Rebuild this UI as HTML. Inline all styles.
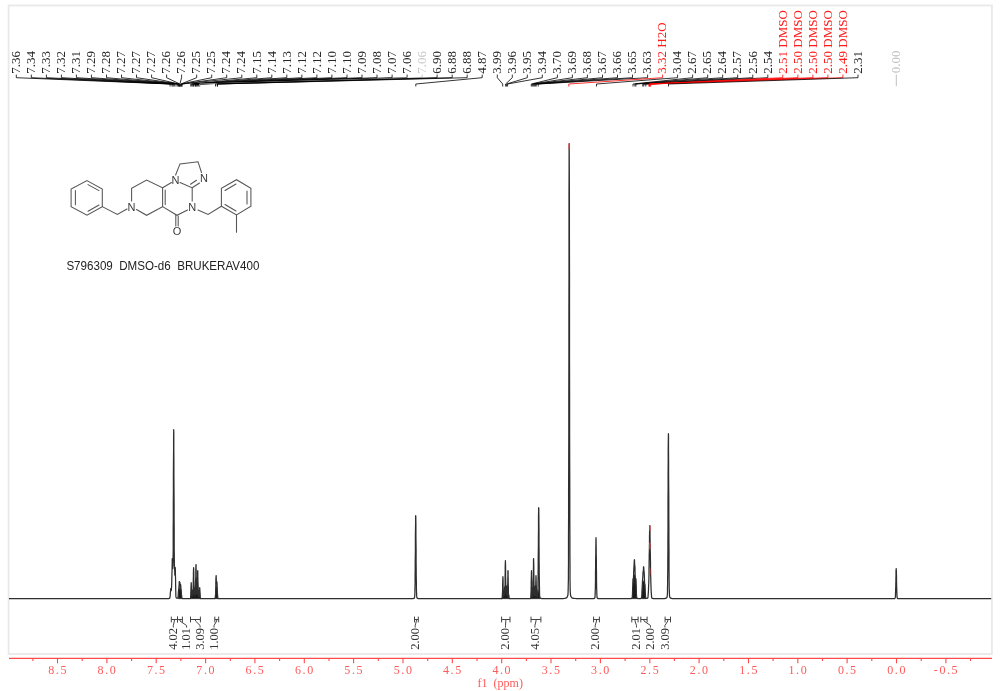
<!DOCTYPE html>
<html><head><meta charset="utf-8"><style>
html,body{margin:0;padding:0;background:#fff;width:1000px;height:691px;overflow:hidden}
svg{display:block;will-change:transform}
</style></head><body>
<svg width="1000" height="691" viewBox="0 0 1000 691">
<rect x="8.6" y="5.5" width="983.3" height="648.5" fill="none" stroke="#e9e9e9" stroke-width="1.8"/>
<g font-family="'Liberation Serif', serif" font-size="13">
<text transform="translate(20.0,73.7) rotate(-90)" fill="#262626">7.36</text><text transform="translate(35.0,73.7) rotate(-90)" fill="#262626">7.34</text><text transform="translate(50.1,73.7) rotate(-90)" fill="#262626">7.33</text><text transform="translate(65.1,73.7) rotate(-90)" fill="#262626">7.32</text><text transform="translate(80.1,73.7) rotate(-90)" fill="#262626">7.31</text><text transform="translate(95.1,73.7) rotate(-90)" fill="#262626">7.29</text><text transform="translate(110.2,73.7) rotate(-90)" fill="#262626">7.28</text><text transform="translate(125.2,73.7) rotate(-90)" fill="#262626">7.27</text><text transform="translate(140.2,73.7) rotate(-90)" fill="#262626">7.27</text><text transform="translate(155.3,73.7) rotate(-90)" fill="#262626">7.27</text><text transform="translate(170.3,73.7) rotate(-90)" fill="#262626">7.26</text><text transform="translate(185.3,73.7) rotate(-90)" fill="#262626">7.26</text><text transform="translate(200.4,73.7) rotate(-90)" fill="#262626">7.25</text><text transform="translate(215.4,73.7) rotate(-90)" fill="#262626">7.25</text><text transform="translate(230.4,73.7) rotate(-90)" fill="#262626">7.24</text><text transform="translate(245.4,73.7) rotate(-90)" fill="#262626">7.24</text><text transform="translate(260.5,73.7) rotate(-90)" fill="#262626">7.15</text><text transform="translate(275.5,73.7) rotate(-90)" fill="#262626">7.14</text><text transform="translate(290.5,73.7) rotate(-90)" fill="#262626">7.13</text><text transform="translate(305.6,73.7) rotate(-90)" fill="#262626">7.12</text><text transform="translate(320.6,73.7) rotate(-90)" fill="#262626">7.12</text><text transform="translate(335.6,73.7) rotate(-90)" fill="#262626">7.10</text><text transform="translate(350.7,73.7) rotate(-90)" fill="#262626">7.10</text><text transform="translate(365.7,73.7) rotate(-90)" fill="#262626">7.09</text><text transform="translate(380.7,73.7) rotate(-90)" fill="#262626">7.08</text><text transform="translate(395.8,73.7) rotate(-90)" fill="#262626">7.07</text><text transform="translate(410.8,73.7) rotate(-90)" fill="#262626">7.06</text><text transform="translate(425.8,73.7) rotate(-90)" fill="#c8c8c8">7.06</text><text transform="translate(440.8,73.7) rotate(-90)" fill="#262626">6.90</text><text transform="translate(455.9,73.7) rotate(-90)" fill="#262626">6.88</text><text transform="translate(470.9,73.7) rotate(-90)" fill="#262626">6.88</text><text transform="translate(485.9,73.7) rotate(-90)" fill="#262626">4.87</text><text transform="translate(501.0,73.7) rotate(-90)" fill="#262626">3.99</text><text transform="translate(516.0,73.7) rotate(-90)" fill="#262626">3.96</text><text transform="translate(531.0,73.7) rotate(-90)" fill="#262626">3.95</text><text transform="translate(546.0,73.7) rotate(-90)" fill="#262626">3.94</text><text transform="translate(561.1,73.7) rotate(-90)" fill="#262626">3.70</text><text transform="translate(576.1,73.7) rotate(-90)" fill="#262626">3.69</text><text transform="translate(591.1,73.7) rotate(-90)" fill="#262626">3.68</text><text transform="translate(606.2,73.7) rotate(-90)" fill="#262626">3.67</text><text transform="translate(621.2,73.7) rotate(-90)" fill="#262626">3.66</text><text transform="translate(636.2,73.7) rotate(-90)" fill="#262626">3.65</text><text transform="translate(651.3,73.7) rotate(-90)" fill="#262626">3.63</text><text transform="translate(666.3,73.7) rotate(-90)" fill="#ff1a1a">3.32 H2O</text><text transform="translate(681.3,73.7) rotate(-90)" fill="#262626">3.04</text><text transform="translate(696.4,73.7) rotate(-90)" fill="#262626">2.67</text><text transform="translate(711.4,73.7) rotate(-90)" fill="#262626">2.65</text><text transform="translate(726.4,73.7) rotate(-90)" fill="#262626">2.64</text><text transform="translate(741.4,73.7) rotate(-90)" fill="#262626">2.57</text><text transform="translate(756.5,73.7) rotate(-90)" fill="#262626">2.56</text><text transform="translate(771.5,73.7) rotate(-90)" fill="#262626">2.54</text><text transform="translate(786.5,73.7) rotate(-90)" fill="#ff1a1a">2.51 DMSO</text><text transform="translate(801.6,73.7) rotate(-90)" fill="#ff1a1a">2.50 DMSO</text><text transform="translate(816.6,73.7) rotate(-90)" fill="#ff1a1a">2.50 DMSO</text><text transform="translate(831.6,73.7) rotate(-90)" fill="#ff1a1a">2.50 DMSO</text><text transform="translate(846.6,73.7) rotate(-90)" fill="#ff1a1a">2.49 DMSO</text><text transform="translate(861.7,73.7) rotate(-90)" fill="#262626">2.31</text>
</g>
<g fill="none" stroke-width="0.8">
<path d="M16.3 74.6 L16.3 77.7 L170.1 84.0 L170.1 86.5" stroke="#000"/><path d="M31.3 74.6 L31.3 77.7 L172.0 84.0 L172.0 86.5" stroke="#000"/><path d="M46.4 74.6 L46.4 77.7 L173.0 84.0 L173.0 86.5" stroke="#000"/><path d="M61.4 74.6 L61.4 77.7 L174.0 84.0 L174.0 86.5" stroke="#000"/><path d="M76.4 74.6 L76.4 77.7 L175.0 84.0 L175.0 86.5" stroke="#000"/><path d="M91.4 74.6 L91.4 77.7 L177.0 84.0 L177.0 86.5" stroke="#000"/><path d="M106.5 74.6 L106.5 77.7 L178.0 84.0 L178.0 86.5" stroke="#000"/><path d="M121.5 74.6 L121.5 77.7 L179.0 84.0 L179.0 86.5" stroke="#000"/><path d="M136.5 74.6 L136.5 77.7 L179.0 84.0 L179.0 86.5" stroke="#000"/><path d="M151.6 74.6 L151.6 77.7 L179.0 84.0 L179.0 86.5" stroke="#000"/><path d="M166.6 74.6 L166.6 77.7 L179.9 84.0 L179.9 86.5" stroke="#000"/><path d="M181.6 74.6 L181.6 77.7 L179.9 84.0 L179.9 86.5" stroke="#000"/><path d="M196.7 74.6 L196.7 77.7 L180.9 84.0 L180.9 86.5" stroke="#000"/><path d="M211.7 74.6 L211.7 77.7 L180.9 84.0 L180.9 86.5" stroke="#000"/><path d="M226.7 74.6 L226.7 77.7 L181.9 84.0 L181.9 86.5" stroke="#000"/><path d="M241.8 74.6 L241.8 77.7 L181.9 84.0 L181.9 86.5" stroke="#000"/><path d="M256.8 74.6 L256.8 77.7 L190.8 84.0 L190.8 86.5" stroke="#000"/><path d="M271.8 74.6 L271.8 77.7 L191.8 84.0 L191.8 86.5" stroke="#000"/><path d="M286.8 74.6 L286.8 77.7 L192.8 84.0 L192.8 86.5" stroke="#000"/><path d="M301.9 74.6 L301.9 77.7 L193.8 84.0 L193.8 86.5" stroke="#000"/><path d="M316.9 74.6 L316.9 77.7 L193.8 84.0 L193.8 86.5" stroke="#000"/><path d="M331.9 74.6 L331.9 77.7 L195.7 84.0 L195.7 86.5" stroke="#000"/><path d="M347.0 74.6 L347.0 77.7 L195.7 84.0 L195.7 86.5" stroke="#000"/><path d="M362.0 74.6 L362.0 77.7 L196.7 84.0 L196.7 86.5" stroke="#000"/><path d="M377.0 74.6 L377.0 77.7 L197.7 84.0 L197.7 86.5" stroke="#000"/><path d="M392.1 74.6 L392.1 77.7 L198.7 84.0 L198.7 86.5" stroke="#000"/><path d="M407.1 74.6 L407.1 77.7 L199.7 84.0 L199.7 86.5" stroke="#000"/><path d="M422.1 74.6 L422.1 77.7 L199.7 84.0 L199.7 86.5" stroke="#bbbbbb"/><path d="M437.1 74.6 L437.1 77.7 L215.5 84.0 L215.5 86.5" stroke="#000"/><path d="M452.2 74.6 L452.2 77.7 L217.4 84.0 L217.4 86.5" stroke="#000"/><path d="M467.2 74.6 L467.2 77.7 L217.4 84.0 L217.4 86.5" stroke="#000"/><path d="M482.2 74.6 L482.2 77.7 L415.8 84.0 L415.8 86.5" stroke="#000"/><path d="M497.3 74.6 L497.3 77.7 L502.7 84.0 L502.7 86.5" stroke="#000"/><path d="M512.3 74.6 L512.3 77.7 L505.6 84.0 L505.6 86.5" stroke="#000"/><path d="M527.3 74.6 L527.3 77.7 L506.6 84.0 L506.6 86.5" stroke="#000"/><path d="M542.3 74.6 L542.3 77.7 L507.6 84.0 L507.6 86.5" stroke="#000"/><path d="M557.4 74.6 L557.4 77.7 L531.3 84.0 L531.3 86.5" stroke="#000"/><path d="M572.4 74.6 L572.4 77.7 L532.3 84.0 L532.3 86.5" stroke="#000"/><path d="M587.4 74.6 L587.4 77.7 L533.3 84.0 L533.3 86.5" stroke="#000"/><path d="M602.5 74.6 L602.5 77.7 L534.3 84.0 L534.3 86.5" stroke="#000"/><path d="M617.5 74.6 L617.5 77.7 L535.3 84.0 L535.3 86.5" stroke="#000"/><path d="M632.5 74.6 L632.5 77.7 L536.2 84.0 L536.2 86.5" stroke="#000"/><path d="M647.6 74.6 L647.6 77.7 L538.2 84.0 L538.2 86.5" stroke="#000"/><path d="M662.6 74.6 L662.6 77.7 L568.8 84.0 L568.8 86.5" stroke="#ff0000"/><path d="M677.6 74.6 L677.6 77.7 L596.5 84.0 L596.5 86.5" stroke="#000"/><path d="M692.6 74.6 L692.6 77.7 L633.0 84.0 L633.0 86.5" stroke="#000"/><path d="M707.7 74.6 L707.7 77.7 L634.9 84.0 L634.9 86.5" stroke="#000"/><path d="M722.7 74.6 L722.7 77.7 L635.9 84.0 L635.9 86.5" stroke="#000"/><path d="M737.7 74.6 L737.7 77.7 L642.8 84.0 L642.8 86.5" stroke="#000"/><path d="M752.8 74.6 L752.8 77.7 L643.8 84.0 L643.8 86.5" stroke="#000"/><path d="M767.8 74.6 L767.8 77.7 L645.8 84.0 L645.8 86.5" stroke="#000"/><path d="M782.8 74.6 L782.8 77.7 L648.8 84.0 L648.8 86.5" stroke="#ff0000"/><path d="M797.9 74.6 L797.9 77.7 L649.8 84.0 L649.8 86.5" stroke="#ff0000"/><path d="M812.9 74.6 L812.9 77.7 L649.8 84.0 L649.8 86.5" stroke="#ff0000"/><path d="M827.9 74.6 L827.9 77.7 L649.8 84.0 L649.8 86.5" stroke="#ff0000"/><path d="M842.9 74.6 L842.9 77.7 L650.7 84.0 L650.7 86.5" stroke="#ff0000"/><path d="M858.0 74.6 L858.0 77.7 L668.5 84.0 L668.5 86.5" stroke="#000"/>
<path d="M896.3 74.6 L896.3 86.2" stroke="#b0b0b0"/>
</g>
<text transform="translate(900.4,73.3) rotate(-90)" font-family="'Liberation Serif', serif" font-size="13" fill="#c0c0c0">0.00</text>
<path d="M178.2 598.7 L178.2 598.7 L178.4 596.2 L178.6 594.0 L178.8 592.0 L179.0 590.4 L179.2 589.1 L179.4 588.0 L179.6 587.3 L179.8 586.8 L180.0 586.7 L180.2 586.8 L180.4 587.3 L180.6 588.0 L180.8 589.1 L181.0 590.4 L181.2 592.0 L181.4 594.0 L181.6 596.2 L181.8 598.7 L181.8 598.7 Z M190.4 598.7 L190.4 598.7 L190.6 597.5 L190.8 595.7 L191.0 594.4 L191.2 593.0 L191.4 591.7 L191.6 594.0 L191.8 595.3 L192.0 593.9 L192.2 595.8 L192.4 590.7 L192.6 595.4 L192.8 590.6 L193.0 592.8 L193.2 589.7 L193.4 582.3 L193.6 581.7 L193.8 581.1 L194.0 587.8 L194.2 587.7 L194.4 594.8 L194.6 591.0 L194.8 594.4 L195.0 594.5 L195.2 594.2 L195.4 592.4 L195.6 582.2 L195.8 578.7 L196.0 578.8 L196.2 579.0 L196.4 584.1 L196.6 592.9 L196.8 588.8 L197.0 588.6 L197.2 593.6 L197.4 585.2 L197.6 581.7 L197.8 582.3 L198.0 584.9 L198.2 591.2 L198.4 595.6 L198.6 592.9 L198.8 593.0 L199.0 596.2 L199.2 594.0 L199.4 593.0 L199.6 590.5 L199.8 591.7 L200.0 593.4 L200.2 597.0 L200.4 598.2 L200.6 598.5 L200.8 598.7 L200.8 598.7 Z M215.0 598.7 L215.0 598.7 L215.2 598.1 L215.4 596.8 L215.6 592.9 L215.8 589.3 L216.0 588.0 L216.2 587.2 L216.4 586.8 L216.6 586.8 L216.8 587.2 L217.0 588.0 L217.2 589.3 L217.4 592.3 L217.6 596.2 L217.8 598.1 L218.0 598.7 L218.0 598.7 Z M501.2 598.7 L501.2 598.7 L501.4 598.6 L501.6 598.5 L501.8 598.5 L502.0 598.4 L502.2 597.9 L502.4 595.5 L502.6 591.6 L502.8 590.8 L503.0 590.1 L503.2 589.4 L503.4 595.3 L503.6 596.1 L503.8 591.4 L504.0 595.6 L504.2 591.1 L504.4 594.1 L504.6 590.6 L504.8 588.8 L505.0 587.4 L505.2 585.8 L505.4 585.7 L505.6 585.7 L505.8 586.8 L506.0 586.8 L506.2 592.7 L506.4 589.6 L506.6 589.7 L506.8 593.7 L507.0 590.3 L507.2 596.3 L507.4 594.1 L507.6 590.2 L507.8 589.4 L508.0 590.1 L508.2 590.8 L508.4 591.6 L508.6 595.4 L508.8 595.6 L509.0 598.0 L509.2 598.2 L509.4 598.4 L509.6 598.5 L509.8 598.7 L509.8 598.7 Z M530.2 598.7 L530.2 598.7 L530.4 598.4 L530.6 598.3 L530.8 597.7 L531.0 594.5 L531.2 593.6 L531.4 592.7 L531.6 591.8 L531.8 591.0 L532.0 594.2 L532.2 596.2 L532.4 593.1 L532.6 596.4 L532.8 594.6 L533.0 594.2 L533.2 587.3 L533.4 586.4 L533.6 586.0 L533.8 585.7 L534.0 586.7 L534.2 593.1 L534.4 595.6 L534.6 587.4 L534.8 592.5 L535.0 592.6 L535.2 592.6 L535.4 596.1 L535.6 591.5 L535.8 585.0 L536.0 585.2 L536.2 585.4 L536.4 589.2 L536.6 595.0 L536.8 593.7 L537.0 593.8 L537.2 597.2 L537.4 597.0 L537.6 596.7 L537.8 593.9 L538.0 589.6 L538.2 590.3 L538.4 591.0 L538.6 591.8 L538.8 592.7 L539.0 593.6 L539.2 594.5 L539.4 595.5 L539.6 596.5 L539.8 597.6 L540.0 598.7 L540.0 598.7 Z M632.2 598.7 L632.2 598.7 L632.4 595.6 L632.6 591.2 L632.8 588.0 L633.0 585.1 L633.2 582.6 L633.4 580.7 L633.6 578.6 L633.8 577.1 L634.0 576.0 L634.2 575.2 L634.4 574.8 L634.6 574.7 L634.8 575.0 L635.0 575.6 L635.2 576.5 L635.4 583.3 L635.6 583.4 L635.8 581.5 L636.0 583.8 L636.2 587.0 L636.4 593.5 L636.6 596.9 L636.8 598.0 L636.9 598.7 Z M641.6 598.7 L641.6 598.7 L641.8 596.4 L642.0 593.0 L642.2 590.1 L642.4 587.8 L642.6 585.8 L642.8 584.2 L643.0 582.9 L643.2 581.9 L643.4 581.2 L643.6 580.8 L643.8 580.7 L644.0 580.9 L644.2 581.5 L644.4 582.3 L644.6 583.5 L644.8 585.0 L645.0 586.8 L645.2 591.0 L645.4 595.2 L645.6 597.3 L645.8 598.0 L645.9 598.7 Z" fill="#1a1a1a" stroke="#1a1a1a" stroke-width="0.5"/>
<path d="M9.0 598.7 L10.0 598.7 L11.0 598.7 L12.0 598.7 L13.0 598.7 L14.0 598.7 L15.0 598.7 L16.0 598.7 L17.0 598.7 L18.0 598.7 L19.0 598.7 L20.0 598.7 L21.0 598.7 L22.0 598.7 L23.0 598.7 L24.0 598.7 L25.0 598.7 L26.0 598.7 L27.0 598.7 L28.0 598.7 L29.0 598.7 L30.0 598.7 L31.0 598.7 L32.0 598.7 L33.0 598.7 L34.0 598.7 L35.0 598.7 L36.0 598.7 L37.0 598.7 L38.0 598.7 L39.0 598.7 L40.0 598.7 L41.0 598.7 L42.0 598.7 L43.0 598.7 L44.0 598.7 L45.0 598.7 L46.0 598.7 L47.0 598.7 L48.0 598.7 L49.0 598.7 L50.0 598.7 L51.0 598.7 L52.0 598.7 L53.0 598.7 L54.0 598.7 L55.0 598.7 L56.0 598.7 L57.0 598.7 L58.0 598.7 L59.0 598.7 L60.0 598.7 L61.0 598.7 L62.0 598.7 L63.0 598.7 L64.0 598.7 L65.0 598.7 L66.0 598.7 L67.0 598.7 L68.0 598.7 L69.0 598.7 L70.0 598.7 L71.0 598.7 L72.0 598.7 L73.0 598.7 L74.0 598.7 L75.0 598.7 L76.0 598.7 L77.0 598.7 L78.0 598.7 L79.0 598.7 L80.0 598.7 L81.0 598.7 L82.0 598.7 L83.0 598.7 L84.0 598.7 L85.0 598.7 L86.0 598.7 L87.0 598.7 L88.0 598.7 L89.0 598.7 L90.0 598.7 L91.0 598.7 L92.0 598.7 L93.0 598.7 L94.0 598.7 L95.0 598.7 L96.0 598.7 L97.0 598.7 L98.0 598.7 L99.0 598.7 L100.0 598.7 L101.0 598.7 L102.0 598.7 L103.0 598.7 L104.0 598.7 L105.0 598.7 L106.0 598.7 L107.0 598.7 L108.0 598.7 L109.0 598.7 L110.0 598.7 L111.0 598.7 L112.0 598.7 L113.0 598.7 L114.0 598.7 L115.0 598.7 L116.0 598.7 L117.0 598.7 L118.0 598.7 L119.0 598.7 L120.0 598.7 L121.0 598.7 L122.0 598.7 L123.0 598.7 L124.0 598.7 L125.0 598.7 L126.0 598.7 L127.0 598.7 L128.0 598.7 L129.0 598.7 L130.0 598.7 L131.0 598.7 L132.0 598.7 L133.0 598.7 L134.0 598.7 L135.0 598.7 L136.0 598.7 L137.0 598.7 L138.0 598.7 L139.0 598.7 L140.0 598.7 L141.0 598.7 L142.0 598.7 L143.0 598.7 L144.0 598.7 L145.0 598.7 L146.0 598.7 L147.0 598.7 L148.0 598.7 L149.0 598.7 L150.0 598.7 L151.0 598.7 L152.0 598.7 L153.0 598.7 L154.0 598.7 L155.0 598.7 L156.0 598.7 L157.0 598.7 L158.0 598.7 L159.0 598.7 L160.0 598.7 L161.0 598.7 L162.0 598.7 L163.0 598.7 L164.0 598.6 L165.0 598.6 L166.0 598.6 L166.1 598.6 L166.1 598.6 L166.2 598.6 L166.2 598.6 L166.2 598.6 L166.3 598.6 L166.3 598.6 L166.4 598.6 L166.4 598.6 L166.5 598.6 L166.6 598.6 L166.6 598.6 L166.7 598.6 L166.7 598.6 L166.8 598.6 L166.8 598.6 L166.8 598.6 L166.9 598.6 L166.9 598.6 L167.0 598.6 L167.1 598.6 L167.1 598.6 L167.2 598.6 L167.2 598.6 L167.2 598.6 L167.3 598.6 L167.3 598.6 L167.4 598.6 L167.4 598.6 L167.5 598.6 L167.6 598.6 L167.6 598.6 L167.7 598.6 L167.7 598.6 L167.8 598.6 L167.8 598.5 L167.8 598.5 L167.9 598.5 L167.9 598.5 L168.0 598.5 L168.1 598.5 L168.1 598.5 L168.2 598.5 L168.2 598.5 L168.2 598.5 L168.3 598.5 L168.3 598.5 L168.4 598.5 L168.4 598.5 L168.5 598.5 L168.6 598.5 L168.6 598.5 L168.7 598.5 L168.7 598.5 L168.8 598.5 L168.8 598.5 L168.8 598.5 L168.9 598.4 L168.9 598.4 L169.0 598.4 L169.1 598.4 L169.1 598.4 L169.2 598.4 L169.2 598.4 L169.2 598.4 L169.3 598.4 L169.3 598.3 L169.4 598.3 L169.4 598.3 L169.5 598.3 L169.6 598.2 L169.6 598.2 L169.7 598.1 L169.7 598.1 L169.8 598.0 L169.8 597.8 L169.8 597.7 L169.9 597.5 L169.9 597.3 L170.0 597.0 L170.1 596.7 L170.1 596.3 L170.2 595.8 L170.2 595.3 L170.2 594.7 L170.3 594.1 L170.3 593.4 L170.4 592.7 L170.4 592.0 L170.5 591.3 L170.6 590.7 L170.6 590.1 L170.7 589.5 L170.7 589.1 L170.8 588.8 L170.8 588.7 L170.8 588.7 L170.9 588.9 L170.9 589.1 L171.0 589.4 L171.1 589.8 L171.1 590.1 L171.2 590.4 L171.2 590.6 L171.2 590.6 L171.3 590.4 L171.3 590.0 L171.4 589.4 L171.4 588.7 L171.5 587.7 L171.6 586.6 L171.6 585.3 L171.7 584.0 L171.7 582.6 L171.8 581.2 L171.8 579.7 L171.8 578.1 L171.9 576.4 L171.9 574.4 L172.0 572.1 L172.1 569.5 L172.1 566.8 L172.2 564.0 L172.2 561.6 L172.2 559.7 L172.3 558.7 L172.3 558.7 L172.4 559.5 L172.4 560.9 L172.5 562.6 L172.6 564.3 L172.6 565.8 L172.7 567.0 L172.7 567.9 L172.8 568.4 L172.8 568.7 L172.8 568.6 L172.9 568.0 L172.9 566.8 L173.0 564.6 L173.1 561.1 L173.1 556.1 L173.2 549.3 L173.2 540.7 L173.2 530.2 L173.3 518.1 L173.3 504.5 L173.4 490.0 L173.4 475.3 L173.5 461.2 L173.6 448.6 L173.6 438.6 L173.7 432.0 L173.7 429.7 L173.8 432.0 L173.8 438.5 L173.8 448.5 L173.9 461.0 L173.9 475.1 L174.0 489.6 L174.1 503.9 L174.1 517.3 L174.2 529.3 L174.2 539.5 L174.2 547.8 L174.3 554.3 L174.3 559.1 L174.4 562.5 L174.4 564.8 L174.5 566.4 L174.6 567.6 L174.6 568.7 L174.7 569.9 L174.7 571.2 L174.8 572.6 L174.8 573.8 L174.8 574.7 L174.9 575.2 L174.9 575.0 L175.0 574.3 L175.1 573.1 L175.1 571.5 L175.2 569.8 L175.2 568.4 L175.2 567.6 L175.3 567.7 L175.3 568.8 L175.4 571.0 L175.4 574.0 L175.5 577.3 L175.6 580.8 L175.6 584.2 L175.7 587.2 L175.7 589.9 L175.8 592.0 L175.8 593.7 L175.8 595.0 L175.9 595.9 L175.9 596.6 L176.0 597.0 L176.1 597.3 L176.1 597.5 L176.2 597.6 L176.2 597.7 L176.2 597.8 L176.3 597.8 L176.3 597.9 L176.4 597.9 L176.4 598.0 L176.5 598.0 L176.6 598.0 L176.6 598.0 L176.7 598.1 L176.7 598.1 L176.8 598.1 L176.8 598.1 L176.8 598.1 L176.9 598.1 L176.9 598.2 L177.0 598.2 L177.1 598.2 L177.1 598.2 L177.2 598.2 L177.2 598.2 L177.2 598.2 L177.3 598.2 L177.3 598.2 L177.4 598.2 L177.4 598.2 L177.5 598.2 L177.6 598.2 L177.6 598.2 L177.7 598.1 L177.7 598.1 L177.8 598.1 L177.8 598.0 L177.8 597.9 L177.9 597.7 L177.9 597.5 L178.0 597.2 L178.1 596.8 L178.1 596.4 L178.2 595.8 L178.2 595.2 L178.2 594.5 L178.3 593.7 L178.3 592.9 L178.4 592.1 L178.4 591.4 L178.5 590.7 L178.6 590.1 L178.6 589.7 L178.7 589.4 L178.7 589.2 L178.8 589.0 L178.8 588.8 L178.8 588.5 L178.9 588.0 L178.9 587.4 L179.0 586.7 L179.1 585.8 L179.1 584.8 L179.2 583.8 L179.2 582.9 L179.2 582.2 L179.3 581.7 L179.3 581.5 L179.4 581.5 L179.4 581.6 L179.5 581.9 L179.6 582.1 L179.6 582.3 L179.7 582.4 L179.7 582.4 L179.8 582.4 L179.8 582.4 L179.8 582.5 L179.9 582.7 L179.9 583.1 L180.0 583.6 L180.1 584.3 L180.1 584.9 L180.2 585.4 L180.2 585.8 L180.2 586.0 L180.3 586.0 L180.3 585.9 L180.4 585.6 L180.4 585.3 L180.5 585.0 L180.6 584.7 L180.6 584.7 L180.7 584.9 L180.7 585.3 L180.8 585.8 L180.8 586.4 L180.8 587.1 L180.9 587.7 L180.9 588.3 L181.0 588.9 L181.1 589.3 L181.1 589.8 L181.2 590.2 L181.2 590.7 L181.2 591.3 L181.3 591.9 L181.3 592.5 L181.4 593.3 L181.4 594.0 L181.5 594.7 L181.6 595.3 L181.6 595.9 L181.7 596.4 L181.7 596.9 L181.8 597.3 L181.8 597.6 L181.8 597.8 L181.9 598.0 L181.9 598.1 L182.0 598.2 L182.1 598.3 L182.1 598.4 L182.2 598.4 L182.2 598.4 L182.2 598.4 L182.3 598.5 L182.3 598.5 L182.4 598.5 L182.4 598.5 L182.5 598.5 L182.6 598.5 L182.6 598.5 L182.7 598.5 L182.7 598.5 L182.8 598.5 L182.8 598.5 L182.8 598.5 L182.9 598.5 L182.9 598.6 L183.0 598.6 L183.1 598.6 L183.1 598.6 L183.2 598.6 L183.2 598.6 L183.2 598.6 L183.3 598.6 L183.3 598.6 L183.4 598.6 L183.4 598.6 L183.5 598.6 L183.6 598.6 L183.6 598.6 L183.7 598.6 L183.7 598.6 L183.8 598.6 L183.8 598.6 L183.8 598.6 L183.9 598.6 L183.9 598.6 L184.0 598.6 L184.1 598.6 L184.1 598.6 L184.2 598.6 L184.2 598.6 L184.2 598.6 L184.3 598.6 L184.3 598.6 L184.4 598.6 L184.4 598.6 L184.5 598.6 L184.6 598.6 L184.6 598.6 L184.7 598.6 L184.7 598.6 L184.8 598.6 L184.8 598.6 L184.8 598.6 L184.9 598.6 L184.9 598.6 L185.0 598.6 L185.1 598.6 L185.1 598.6 L185.2 598.6 L185.2 598.6 L185.2 598.6 L185.3 598.6 L185.3 598.6 L185.4 598.6 L185.4 598.6 L185.5 598.6 L185.6 598.6 L185.6 598.6 L185.7 598.6 L185.7 598.6 L185.8 598.6 L185.8 598.6 L185.8 598.6 L185.9 598.6 L185.9 598.6 L186.0 598.6 L186.1 598.6 L186.1 598.6 L186.2 598.6 L186.2 598.6 L186.2 598.6 L186.3 598.6 L186.3 598.6 L186.4 598.6 L186.4 598.6 L186.5 598.6 L186.6 598.6 L186.6 598.6 L186.7 598.6 L186.7 598.6 L186.8 598.6 L186.8 598.6 L186.8 598.6 L186.9 598.6 L186.9 598.6 L187.0 598.6 L187.1 598.6 L187.1 598.6 L187.2 598.6 L187.2 598.6 L187.2 598.6 L187.3 598.6 L187.3 598.6 L187.4 598.6 L187.4 598.6 L187.5 598.6 L187.6 598.6 L187.6 598.6 L187.7 598.6 L187.7 598.6 L187.8 598.6 L187.8 598.6 L187.8 598.6 L187.9 598.6 L187.9 598.6 L188.0 598.6 L188.1 598.6 L188.1 598.6 L188.2 598.6 L188.2 598.6 L188.2 598.6 L188.3 598.6 L188.3 598.6 L188.4 598.6 L188.4 598.6 L188.5 598.6 L188.6 598.6 L188.6 598.6 L188.7 598.6 L188.7 598.6 L188.8 598.6 L188.8 598.6 L188.8 598.6 L188.9 598.6 L188.9 598.6 L189.0 598.6 L189.1 598.6 L189.1 598.6 L189.2 598.6 L189.2 598.6 L189.2 598.6 L189.3 598.6 L189.3 598.6 L189.4 598.6 L189.4 598.6 L189.5 598.6 L189.6 598.6 L189.6 598.6 L189.7 598.6 L189.7 598.6 L189.8 598.6 L189.8 598.6 L189.8 598.6 L189.9 598.5 L189.9 598.5 L190.0 598.5 L190.1 598.5 L190.1 598.5 L190.2 598.5 L190.2 598.5 L190.2 598.5 L190.3 598.4 L190.3 598.4 L190.4 598.3 L190.4 598.2 L190.5 598.1 L190.6 597.8 L190.6 597.5 L190.7 597.0 L190.7 596.3 L190.8 595.4 L190.8 594.2 L190.8 592.7 L190.9 591.1 L190.9 589.2 L191.0 587.3 L191.1 585.6 L191.1 584.1 L191.2 583.1 L191.2 582.7 L191.2 583.0 L191.3 584.0 L191.3 585.5 L191.4 587.3 L191.4 589.1 L191.5 591.0 L191.6 592.6 L191.6 594.0 L191.7 595.0 L191.7 595.6 L191.8 595.7 L191.8 595.3 L191.8 594.5 L191.9 593.8 L191.9 593.4 L192.0 593.9 L192.1 594.9 L192.1 595.8 L192.2 596.2 L192.2 595.8 L192.2 594.7 L192.3 593.0 L192.3 591.4 L192.4 590.7 L192.4 591.3 L192.5 592.9 L192.6 594.4 L192.6 595.4 L192.7 595.3 L192.7 594.2 L192.8 592.4 L192.8 590.6 L192.8 589.7 L192.9 590.2 L192.9 591.5 L193.0 592.8 L193.1 593.4 L193.1 593.1 L193.2 591.8 L193.2 589.7 L193.2 587.0 L193.3 583.8 L193.3 580.3 L193.4 576.7 L193.4 573.2 L193.5 570.4 L193.6 568.4 L193.6 567.7 L193.7 568.4 L193.7 570.3 L193.8 573.2 L193.8 576.6 L193.8 580.1 L193.9 583.4 L193.9 586.1 L194.0 587.8 L194.1 588.4 L194.1 588.1 L194.2 587.6 L194.2 587.7 L194.2 589.2 L194.3 591.4 L194.3 593.5 L194.4 594.8 L194.4 595.0 L194.5 594.1 L194.6 592.5 L194.6 591.0 L194.7 590.3 L194.7 591.0 L194.8 592.7 L194.8 594.4 L194.8 595.6 L194.9 595.9 L194.9 595.5 L195.0 594.5 L195.1 593.5 L195.1 593.0 L195.2 593.4 L195.2 594.2 L195.2 595.0 L195.3 595.1 L195.3 594.3 L195.4 592.4 L195.4 589.7 L195.5 586.6 L195.6 584.0 L195.6 582.2 L195.7 580.8 L195.7 579.1 L195.8 576.7 L195.8 573.7 L195.8 570.4 L195.9 567.5 L195.9 565.4 L196.0 564.7 L196.1 565.4 L196.1 567.5 L196.2 570.5 L196.2 573.9 L196.2 577.2 L196.3 580.0 L196.3 582.2 L196.4 584.1 L196.4 586.0 L196.5 588.4 L196.6 590.9 L196.6 592.9 L196.7 593.8 L196.7 593.4 L196.8 591.5 L196.8 588.8 L196.8 586.2 L196.9 585.0 L196.9 586.1 L197.0 588.6 L197.1 591.3 L197.1 593.2 L197.2 594.0 L197.2 593.6 L197.2 592.4 L197.3 590.5 L197.3 588.0 L197.4 585.2 L197.4 582.0 L197.5 578.7 L197.6 575.7 L197.6 573.1 L197.7 571.3 L197.7 570.7 L197.8 571.3 L197.8 573.1 L197.8 575.7 L197.9 578.7 L197.9 581.9 L198.0 584.9 L198.1 587.3 L198.1 589.2 L198.2 590.4 L198.2 591.2 L198.2 592.1 L198.3 593.2 L198.3 594.5 L198.4 595.6 L198.4 596.0 L198.5 595.7 L198.6 594.5 L198.6 592.9 L198.7 591.3 L198.7 590.6 L198.8 591.4 L198.8 593.0 L198.8 594.7 L198.9 595.9 L198.9 596.4 L199.0 596.2 L199.1 595.6 L199.1 594.7 L199.2 594.2 L199.2 594.0 L199.2 594.1 L199.3 594.1 L199.3 593.7 L199.4 593.0 L199.4 591.9 L199.5 590.8 L199.6 589.6 L199.6 588.6 L199.7 587.9 L199.7 587.7 L199.8 588.0 L199.8 588.7 L199.8 589.7 L199.9 590.9 L199.9 592.2 L200.0 593.4 L200.1 594.6 L200.1 595.6 L200.2 596.4 L200.2 597.0 L200.2 597.5 L200.3 597.8 L200.3 598.1 L200.4 598.2 L200.4 598.4 L200.5 598.4 L200.6 598.5 L200.6 598.5 L200.7 598.5 L200.7 598.5 L200.8 598.5 L200.8 598.6 L200.8 598.6 L200.9 598.6 L200.9 598.6 L201.0 598.6 L201.1 598.6 L201.1 598.6 L201.2 598.6 L201.2 598.6 L201.2 598.6 L201.3 598.6 L201.3 598.6 L201.4 598.6 L201.4 598.6 L201.5 598.6 L201.6 598.6 L201.6 598.6 L201.7 598.6 L201.7 598.6 L201.8 598.6 L201.8 598.6 L201.8 598.6 L201.9 598.6 L201.9 598.6 L202.0 598.6 L202.1 598.6 L202.1 598.6 L202.2 598.6 L202.2 598.6 L202.2 598.6 L202.3 598.6 L202.3 598.6 L202.4 598.6 L202.4 598.6 L202.5 598.6 L202.6 598.7 L202.6 598.7 L202.7 598.7 L202.7 598.7 L202.8 598.7 L202.8 598.7 L202.8 598.7 L202.9 598.7 L202.9 598.7 L203.0 598.7 L203.1 598.7 L203.1 598.7 L203.2 598.7 L203.2 598.7 L203.2 598.7 L203.3 598.7 L203.3 598.7 L203.4 598.7 L203.4 598.7 L203.5 598.7 L203.6 598.7 L203.6 598.7 L203.7 598.7 L203.7 598.7 L203.8 598.7 L203.8 598.7 L203.8 598.7 L203.9 598.7 L203.9 598.7 L204.0 598.7 L204.1 598.7 L204.1 598.7 L204.2 598.7 L204.2 598.7 L204.2 598.7 L204.3 598.7 L204.3 598.7 L204.4 598.7 L204.4 598.7 L204.5 598.7 L204.6 598.7 L204.6 598.7 L204.7 598.7 L204.7 598.7 L205.7 598.7 L206.7 598.7 L207.7 598.7 L208.7 598.7 L209.7 598.7 L210.7 598.7 L210.8 598.7 L210.8 598.7 L210.8 598.7 L210.9 598.7 L210.9 598.7 L211.0 598.7 L211.1 598.7 L211.1 598.7 L211.2 598.7 L211.2 598.7 L211.2 598.7 L211.3 598.7 L211.3 598.7 L211.4 598.7 L211.4 598.7 L211.5 598.7 L211.6 598.7 L211.6 598.7 L211.7 598.7 L211.7 598.7 L211.8 598.7 L211.8 598.7 L211.8 598.7 L211.9 598.7 L211.9 598.7 L212.0 598.7 L212.1 598.7 L212.1 598.7 L212.2 598.7 L212.2 598.7 L212.2 598.7 L212.3 598.7 L212.3 598.7 L212.4 598.7 L212.4 598.7 L212.5 598.7 L212.6 598.7 L212.6 598.7 L212.7 598.7 L212.7 598.7 L212.8 598.7 L212.8 598.7 L212.8 598.7 L212.9 598.6 L212.9 598.6 L213.0 598.6 L213.1 598.6 L213.1 598.6 L213.2 598.6 L213.2 598.6 L213.2 598.6 L213.3 598.6 L213.3 598.6 L213.4 598.6 L213.4 598.6 L213.5 598.6 L213.6 598.6 L213.6 598.6 L213.7 598.6 L213.7 598.6 L213.8 598.6 L213.8 598.6 L213.8 598.6 L213.9 598.6 L213.9 598.6 L214.0 598.6 L214.1 598.6 L214.1 598.6 L214.2 598.6 L214.2 598.6 L214.2 598.6 L214.3 598.6 L214.3 598.6 L214.4 598.6 L214.4 598.5 L214.5 598.5 L214.6 598.5 L214.6 598.5 L214.7 598.5 L214.7 598.5 L214.8 598.5 L214.8 598.5 L214.8 598.5 L214.9 598.4 L214.9 598.4 L215.0 598.4 L215.1 598.3 L215.1 598.3 L215.2 598.2 L215.2 598.1 L215.2 597.9 L215.3 597.7 L215.3 597.3 L215.4 596.8 L215.4 596.2 L215.5 595.3 L215.6 594.3 L215.6 592.9 L215.7 591.4 L215.7 589.5 L215.8 587.5 L215.8 585.3 L215.8 583.1 L215.9 580.9 L215.9 578.9 L216.0 577.3 L216.1 576.2 L216.1 575.7 L216.2 575.8 L216.2 576.4 L216.2 577.5 L216.3 578.8 L216.3 580.2 L216.4 581.5 L216.4 582.5 L216.5 583.2 L216.6 583.6 L216.6 583.6 L216.7 583.3 L216.7 582.9 L216.8 582.3 L216.8 581.9 L216.8 581.6 L216.9 581.7 L216.9 582.2 L217.0 583.1 L217.1 584.3 L217.1 585.7 L217.2 587.2 L217.2 588.7 L217.2 589.9 L217.3 590.9 L217.3 591.7 L217.4 592.3 L217.4 593.0 L217.5 594.0 L217.6 595.2 L217.6 596.2 L217.7 597.0 L217.7 597.6 L217.8 597.9 L217.8 598.1 L217.8 598.3 L217.9 598.3 L217.9 598.4 L218.0 598.4 L218.1 598.4 L218.1 598.5 L218.2 598.5 L218.2 598.5 L218.2 598.5 L218.3 598.5 L218.3 598.5 L218.4 598.5 L218.4 598.5 L218.5 598.6 L218.6 598.6 L218.6 598.6 L218.7 598.6 L218.7 598.6 L218.8 598.6 L218.8 598.6 L218.8 598.6 L218.9 598.6 L218.9 598.6 L219.0 598.6 L219.1 598.6 L219.1 598.6 L219.2 598.6 L219.2 598.6 L219.2 598.6 L219.3 598.6 L219.3 598.6 L219.4 598.6 L219.4 598.6 L219.5 598.6 L219.6 598.6 L219.6 598.6 L219.7 598.6 L219.7 598.6 L219.8 598.6 L219.8 598.6 L219.8 598.6 L219.9 598.6 L219.9 598.7 L220.0 598.7 L220.1 598.7 L220.1 598.7 L220.2 598.7 L220.2 598.7 L220.2 598.7 L220.3 598.7 L220.3 598.7 L220.4 598.7 L220.4 598.7 L220.5 598.7 L220.6 598.7 L220.6 598.7 L220.7 598.7 L220.7 598.7 L220.8 598.7 L220.8 598.7 L220.8 598.7 L220.9 598.7 L220.9 598.7 L221.0 598.7 L221.1 598.7 L221.1 598.7 L221.2 598.7 L221.2 598.7 L221.2 598.7 L221.3 598.7 L221.3 598.7 L221.4 598.7 L221.4 598.7 L221.5 598.7 L221.6 598.7 L221.6 598.7 L221.7 598.7 L221.7 598.7 L221.8 598.7 L221.8 598.7 L221.8 598.7 L221.9 598.7 L221.9 598.7 L222.0 598.7 L222.1 598.7 L222.1 598.7 L222.2 598.7 L222.2 598.7 L222.2 598.7 L222.3 598.7 L222.3 598.7 L222.4 598.7 L222.4 598.7 L223.4 598.7 L224.4 598.7 L225.4 598.7 L226.4 598.7 L227.4 598.7 L228.4 598.7 L229.4 598.7 L230.4 598.7 L231.4 598.7 L232.4 598.7 L233.4 598.7 L234.4 598.7 L235.4 598.7 L236.4 598.7 L237.4 598.7 L238.4 598.7 L239.4 598.7 L240.4 598.7 L241.4 598.7 L242.4 598.7 L243.4 598.7 L244.4 598.7 L245.4 598.7 L246.4 598.7 L247.4 598.7 L248.4 598.7 L249.4 598.7 L250.4 598.7 L251.4 598.7 L252.4 598.7 L253.4 598.7 L254.4 598.7 L255.4 598.7 L256.4 598.7 L257.4 598.7 L258.4 598.7 L259.4 598.7 L260.4 598.7 L261.4 598.7 L262.4 598.7 L263.4 598.7 L264.4 598.7 L265.4 598.7 L266.4 598.7 L267.4 598.7 L268.4 598.7 L269.4 598.7 L270.4 598.7 L271.4 598.7 L272.4 598.7 L273.4 598.7 L274.4 598.7 L275.4 598.7 L276.4 598.7 L277.4 598.7 L278.4 598.7 L279.4 598.7 L280.4 598.7 L281.4 598.7 L282.4 598.7 L283.4 598.7 L284.4 598.7 L285.4 598.7 L286.4 598.7 L287.4 598.7 L288.4 598.7 L289.4 598.7 L290.4 598.7 L291.4 598.7 L292.4 598.7 L293.4 598.7 L294.4 598.7 L295.4 598.7 L296.4 598.7 L297.4 598.7 L298.4 598.7 L299.4 598.7 L300.4 598.7 L301.4 598.7 L302.4 598.7 L303.4 598.7 L304.4 598.7 L305.4 598.7 L306.4 598.7 L307.4 598.7 L308.4 598.7 L309.4 598.7 L310.4 598.7 L311.4 598.7 L312.4 598.7 L313.4 598.7 L314.4 598.7 L315.4 598.7 L316.4 598.7 L317.4 598.7 L318.4 598.7 L319.4 598.7 L320.4 598.7 L321.4 598.7 L322.4 598.7 L323.4 598.7 L324.4 598.7 L325.4 598.7 L326.4 598.7 L327.4 598.7 L328.4 598.7 L329.4 598.7 L330.4 598.7 L331.4 598.7 L332.4 598.7 L333.4 598.7 L334.4 598.7 L335.4 598.7 L336.4 598.7 L337.4 598.7 L338.4 598.7 L339.4 598.7 L340.4 598.7 L341.4 598.7 L342.4 598.7 L343.4 598.7 L344.4 598.7 L345.4 598.7 L346.4 598.7 L347.4 598.7 L348.4 598.7 L349.4 598.7 L350.4 598.7 L351.4 598.7 L352.4 598.7 L353.4 598.7 L354.4 598.7 L355.4 598.7 L356.4 598.7 L357.4 598.7 L358.4 598.7 L359.4 598.7 L360.4 598.7 L361.4 598.7 L362.4 598.7 L363.4 598.7 L364.4 598.7 L365.4 598.7 L366.4 598.7 L367.4 598.7 L368.4 598.7 L369.4 598.7 L370.4 598.7 L371.4 598.7 L372.4 598.7 L373.4 598.7 L374.4 598.7 L375.4 598.7 L376.4 598.7 L377.4 598.7 L378.4 598.7 L379.4 598.7 L380.4 598.7 L381.4 598.7 L382.4 598.7 L383.4 598.7 L384.4 598.7 L385.4 598.7 L386.4 598.7 L387.4 598.7 L388.4 598.7 L389.4 598.7 L390.4 598.7 L391.4 598.7 L392.4 598.7 L393.4 598.7 L394.4 598.7 L395.4 598.7 L396.4 598.7 L397.4 598.7 L398.4 598.7 L399.4 598.7 L400.4 598.7 L401.4 598.7 L402.4 598.7 L403.4 598.7 L404.4 598.7 L405.4 598.7 L406.4 598.7 L407.4 598.7 L408.4 598.7 L409.4 598.7 L410.4 598.6 L411.4 598.6 L411.5 598.6 L411.6 598.6 L411.6 598.6 L411.6 598.6 L411.7 598.6 L411.8 598.6 L411.8 598.6 L411.9 598.6 L411.9 598.6 L411.9 598.6 L412.0 598.6 L412.1 598.6 L412.1 598.6 L412.1 598.6 L412.2 598.6 L412.2 598.6 L412.3 598.6 L412.4 598.6 L412.4 598.6 L412.4 598.6 L412.5 598.6 L412.6 598.5 L412.6 598.5 L412.6 598.5 L412.7 598.5 L412.8 598.5 L412.8 598.5 L412.9 598.5 L412.9 598.5 L412.9 598.5 L413.0 598.5 L413.1 598.5 L413.1 598.5 L413.1 598.5 L413.2 598.5 L413.2 598.5 L413.3 598.4 L413.4 598.4 L413.4 598.4 L413.4 598.4 L413.5 598.4 L413.6 598.4 L413.6 598.4 L413.6 598.3 L413.7 598.3 L413.8 598.3 L413.8 598.3 L413.9 598.3 L413.9 598.2 L413.9 598.2 L414.0 598.2 L414.1 598.2 L414.1 598.1 L414.1 598.1 L414.2 598.0 L414.2 598.0 L414.3 597.9 L414.4 597.9 L414.4 597.8 L414.4 597.7 L414.5 597.5 L414.6 597.3 L414.6 597.1 L414.6 596.7 L414.7 596.2 L414.8 595.4 L414.8 594.5 L414.9 593.2 L414.9 591.5 L414.9 589.4 L415.0 586.7 L415.1 583.3 L415.1 579.3 L415.1 574.6 L415.2 569.2 L415.2 563.1 L415.3 556.6 L415.4 549.7 L415.4 542.7 L415.4 535.8 L415.5 529.4 L415.6 523.8 L415.6 519.5 L415.6 516.7 L415.7 515.7 L415.8 516.7 L415.8 519.5 L415.9 523.8 L415.9 529.4 L415.9 535.8 L416.0 542.7 L416.1 549.7 L416.1 556.6 L416.1 563.1 L416.2 569.2 L416.2 574.6 L416.3 579.3 L416.4 583.3 L416.4 586.7 L416.4 589.4 L416.5 591.5 L416.6 593.2 L416.6 594.5 L416.6 595.4 L416.7 596.2 L416.8 596.7 L416.8 597.1 L416.9 597.3 L416.9 597.5 L416.9 597.7 L417.0 597.8 L417.1 597.9 L417.1 597.9 L417.1 598.0 L417.2 598.0 L417.2 598.1 L417.3 598.1 L417.4 598.2 L417.4 598.2 L417.4 598.2 L417.5 598.2 L417.6 598.3 L417.6 598.3 L417.6 598.3 L417.7 598.3 L417.8 598.3 L417.8 598.4 L417.9 598.4 L417.9 598.4 L417.9 598.4 L418.0 598.4 L418.1 598.4 L418.1 598.4 L418.1 598.5 L418.2 598.5 L418.2 598.5 L418.3 598.5 L418.4 598.5 L418.4 598.5 L418.4 598.5 L418.5 598.5 L418.6 598.5 L418.6 598.5 L418.6 598.5 L418.7 598.5 L418.8 598.5 L418.8 598.5 L418.9 598.5 L418.9 598.6 L418.9 598.6 L419.0 598.6 L419.1 598.6 L419.1 598.6 L419.1 598.6 L419.2 598.6 L419.2 598.6 L419.3 598.6 L419.4 598.6 L419.4 598.6 L419.4 598.6 L419.5 598.6 L419.6 598.6 L419.6 598.6 L419.6 598.6 L419.7 598.6 L419.8 598.6 L419.8 598.6 L419.9 598.6 L419.9 598.6 L419.9 598.6 L420.0 598.6 L420.1 598.6 L420.1 598.6 L420.1 598.6 L420.2 598.6 L420.2 598.6 L420.3 598.6 L420.4 598.6 L420.4 598.6 L420.4 598.6 L420.5 598.6 L420.6 598.6 L420.6 598.6 L420.6 598.6 L420.7 598.6 L421.7 598.7 L422.7 598.7 L423.7 598.7 L424.7 598.7 L425.7 598.7 L426.7 598.7 L427.7 598.7 L428.7 598.7 L429.7 598.7 L430.7 598.7 L431.7 598.7 L432.7 598.7 L433.7 598.7 L434.7 598.7 L435.7 598.7 L436.7 598.7 L437.7 598.7 L438.7 598.7 L439.7 598.7 L440.7 598.7 L441.7 598.7 L442.7 598.7 L443.7 598.7 L444.7 598.7 L445.7 598.7 L446.7 598.7 L447.7 598.7 L448.7 598.7 L449.7 598.7 L450.7 598.7 L451.7 598.7 L452.7 598.7 L453.7 598.7 L454.7 598.7 L455.7 598.7 L456.7 598.7 L457.7 598.7 L458.7 598.7 L459.7 598.7 L460.7 598.7 L461.7 598.7 L462.7 598.7 L463.7 598.7 L464.7 598.7 L465.7 598.7 L466.7 598.7 L467.7 598.7 L468.7 598.7 L469.7 598.7 L470.7 598.7 L471.7 598.7 L472.7 598.7 L473.7 598.7 L474.7 598.7 L475.7 598.7 L476.7 598.7 L477.7 598.7 L478.7 598.7 L479.7 598.7 L480.7 598.7 L481.7 598.7 L482.7 598.7 L483.7 598.7 L484.7 598.7 L485.7 598.7 L486.7 598.7 L487.7 598.7 L488.7 598.7 L489.7 598.7 L490.7 598.7 L491.7 598.7 L492.7 598.7 L493.7 598.7 L494.7 598.7 L495.7 598.7 L496.7 598.7 L497.7 598.7 L497.8 598.7 L497.8 598.7 L497.9 598.7 L497.9 598.7 L497.9 598.7 L498.0 598.7 L498.1 598.7 L498.1 598.7 L498.1 598.7 L498.2 598.7 L498.2 598.7 L498.3 598.7 L498.4 598.7 L498.4 598.7 L498.4 598.7 L498.5 598.7 L498.6 598.7 L498.6 598.7 L498.6 598.7 L498.7 598.7 L498.8 598.7 L498.8 598.7 L498.9 598.7 L498.9 598.7 L498.9 598.7 L499.0 598.7 L499.1 598.7 L499.1 598.7 L499.1 598.7 L499.2 598.7 L499.2 598.7 L499.3 598.7 L499.4 598.7 L499.4 598.7 L499.4 598.7 L499.5 598.7 L499.6 598.7 L499.6 598.7 L499.6 598.7 L499.7 598.7 L499.8 598.7 L499.8 598.7 L499.9 598.7 L499.9 598.7 L499.9 598.7 L500.0 598.7 L500.1 598.7 L500.1 598.7 L500.1 598.6 L500.2 598.6 L500.2 598.6 L500.3 598.6 L500.4 598.6 L500.4 598.6 L500.4 598.6 L500.5 598.6 L500.6 598.6 L500.6 598.6 L500.6 598.6 L500.7 598.6 L500.8 598.6 L500.8 598.6 L500.9 598.6 L500.9 598.6 L500.9 598.6 L501.0 598.6 L501.1 598.6 L501.1 598.6 L501.1 598.6 L501.2 598.6 L501.2 598.6 L501.3 598.6 L501.4 598.6 L501.4 598.6 L501.4 598.6 L501.5 598.6 L501.6 598.5 L501.6 598.5 L501.6 598.5 L501.7 598.5 L501.8 598.5 L501.8 598.5 L501.9 598.5 L501.9 598.4 L501.9 598.4 L502.0 598.4 L502.1 598.3 L502.1 598.2 L502.1 598.1 L502.2 597.9 L502.2 597.6 L502.3 597.1 L502.4 596.4 L502.4 595.5 L502.4 594.2 L502.5 592.5 L502.6 590.5 L502.6 588.2 L502.6 585.7 L502.7 583.1 L502.8 580.6 L502.8 578.6 L502.9 577.2 L502.9 576.7 L502.9 577.2 L503.0 578.5 L503.1 580.6 L503.1 583.0 L503.1 585.6 L503.2 588.1 L503.2 590.4 L503.3 592.4 L503.4 594.0 L503.4 595.3 L503.4 596.1 L503.5 596.6 L503.6 596.6 L503.6 596.1 L503.6 595.0 L503.7 593.4 L503.8 592.0 L503.8 591.4 L503.9 592.1 L503.9 593.4 L503.9 594.8 L504.0 595.6 L504.1 595.5 L504.1 594.4 L504.1 592.7 L504.2 591.1 L504.2 590.4 L504.3 591.0 L504.4 592.6 L504.4 594.1 L504.4 594.9 L504.5 594.5 L504.6 593.0 L504.6 590.6 L504.6 588.2 L504.7 586.9 L504.8 587.4 L504.8 588.8 L504.9 590.1 L504.9 590.5 L504.9 589.6 L505.0 587.4 L505.1 584.3 L505.1 580.4 L505.1 576.1 L505.2 571.7 L505.2 567.5 L505.3 564.0 L505.4 561.6 L505.4 560.7 L505.4 561.6 L505.5 563.9 L505.6 567.5 L505.6 571.7 L505.6 576.1 L505.7 580.3 L505.8 584.0 L505.8 586.8 L505.9 588.3 L505.9 588.6 L505.9 587.8 L506.0 586.8 L506.1 586.6 L506.1 588.0 L506.1 590.4 L506.2 592.7 L506.2 594.0 L506.3 593.8 L506.4 592.1 L506.4 589.6 L506.4 587.1 L506.5 586.0 L506.6 587.1 L506.6 589.7 L506.6 592.3 L506.7 594.1 L506.8 594.6 L506.8 593.7 L506.9 592.0 L506.9 590.3 L506.9 589.5 L507.0 590.3 L507.1 592.1 L507.1 594.1 L507.1 595.6 L507.2 596.3 L507.2 596.3 L507.3 595.7 L507.4 594.9 L507.4 594.1 L507.4 593.5 L507.5 592.8 L507.6 591.8 L507.6 590.2 L507.6 587.9 L507.7 585.2 L507.8 582.0 L507.8 578.8 L507.9 575.7 L507.9 573.1 L507.9 571.3 L508.0 570.7 L508.1 571.3 L508.1 573.1 L508.1 575.7 L508.2 578.8 L508.2 582.1 L508.3 585.3 L508.4 588.3 L508.4 590.8 L508.4 592.8 L508.5 594.2 L508.6 595.1 L508.6 595.4 L508.6 595.4 L508.7 595.2 L508.8 595.2 L508.8 595.6 L508.9 596.3 L508.9 597.1 L508.9 597.6 L509.0 598.0 L509.1 598.1 L509.1 598.2 L509.1 598.2 L509.2 598.2 L509.2 598.2 L509.3 598.3 L509.4 598.4 L509.4 598.4 L509.4 598.5 L509.5 598.5 L509.6 598.5 L509.6 598.5 L509.6 598.6 L509.7 598.6 L509.8 598.6 L509.8 598.6 L509.9 598.6 L509.9 598.6 L509.9 598.6 L510.0 598.6 L510.1 598.6 L510.1 598.6 L510.1 598.6 L510.2 598.6 L510.2 598.6 L510.3 598.6 L510.4 598.6 L510.4 598.6 L510.4 598.6 L510.5 598.6 L510.6 598.6 L510.6 598.6 L510.6 598.6 L510.7 598.6 L510.8 598.6 L510.8 598.6 L510.9 598.6 L510.9 598.6 L510.9 598.6 L511.0 598.6 L511.1 598.6 L511.1 598.6 L511.1 598.6 L511.2 598.6 L511.2 598.7 L511.3 598.7 L511.4 598.7 L511.4 598.7 L511.4 598.7 L511.5 598.7 L511.6 598.7 L511.6 598.7 L511.6 598.7 L511.7 598.7 L511.8 598.7 L511.8 598.7 L511.9 598.7 L511.9 598.7 L511.9 598.7 L512.0 598.7 L512.0 598.7 L512.1 598.7 L512.1 598.7 L512.2 598.7 L512.2 598.7 L512.3 598.7 L512.4 598.7 L512.4 598.7 L512.5 598.7 L512.5 598.7 L512.5 598.7 L512.6 598.7 L512.6 598.7 L512.7 598.7 L512.8 598.7 L512.8 598.7 L512.9 598.7 L512.9 598.7 L513.0 598.7 L513.0 598.7 L513.0 598.7 L513.1 598.7 L513.1 598.7 L513.2 598.7 L513.2 598.7 L513.3 598.7 L513.4 598.7 L513.4 598.7 L513.5 598.7 L513.5 598.7 L513.5 598.7 L513.6 598.7 L513.6 598.7 L513.7 598.7 L513.8 598.7 L513.8 598.7 L513.9 598.7 L513.9 598.7 L514.0 598.7 L514.0 598.7 L514.0 598.7 L514.1 598.7 L514.1 598.7 L514.2 598.7 L515.2 598.7 L516.2 598.7 L517.2 598.7 L518.2 598.7 L519.2 598.7 L520.2 598.7 L521.2 598.7 L522.2 598.7 L523.2 598.7 L524.2 598.7 L525.2 598.7 L526.2 598.7 L526.2 598.7 L526.3 598.7 L526.4 598.7 L526.4 598.7 L526.5 598.7 L526.5 598.7 L526.5 598.7 L526.6 598.7 L526.6 598.7 L526.7 598.7 L526.8 598.7 L526.8 598.7 L526.9 598.7 L526.9 598.7 L527.0 598.7 L527.0 598.7 L527.0 598.7 L527.1 598.7 L527.1 598.7 L527.2 598.7 L527.2 598.7 L527.3 598.7 L527.4 598.7 L527.4 598.7 L527.5 598.7 L527.5 598.6 L527.5 598.6 L527.6 598.6 L527.6 598.6 L527.7 598.6 L527.8 598.6 L527.8 598.6 L527.9 598.6 L527.9 598.6 L528.0 598.6 L528.0 598.6 L528.0 598.6 L528.1 598.6 L528.1 598.6 L528.2 598.6 L528.2 598.6 L528.3 598.6 L528.4 598.6 L528.4 598.6 L528.5 598.6 L528.5 598.6 L528.5 598.6 L528.6 598.6 L528.6 598.6 L528.7 598.6 L528.8 598.6 L528.8 598.6 L528.9 598.6 L528.9 598.6 L529.0 598.6 L529.0 598.6 L529.0 598.6 L529.1 598.6 L529.1 598.6 L529.2 598.6 L529.2 598.6 L529.3 598.6 L529.4 598.6 L529.4 598.6 L529.5 598.6 L529.5 598.6 L529.5 598.6 L529.6 598.6 L529.6 598.6 L529.7 598.6 L529.8 598.6 L529.8 598.5 L529.9 598.5 L529.9 598.5 L530.0 598.5 L530.0 598.5 L530.0 598.5 L530.1 598.5 L530.1 598.5 L530.2 598.5 L530.2 598.5 L530.3 598.4 L530.4 598.4 L530.4 598.4 L530.5 598.4 L530.5 598.4 L530.5 598.3 L530.6 598.3 L530.6 598.2 L530.7 598.1 L530.8 597.9 L530.8 597.7 L530.9 597.3 L530.9 596.6 L531.0 595.8 L531.0 594.5 L531.0 592.9 L531.1 590.8 L531.1 588.3 L531.2 585.3 L531.2 582.1 L531.3 578.8 L531.4 575.7 L531.4 573.1 L531.5 571.3 L531.5 570.7 L531.5 571.3 L531.6 573.0 L531.6 575.6 L531.7 578.7 L531.8 582.0 L531.8 585.1 L531.9 588.0 L531.9 590.5 L532.0 592.5 L532.0 594.2 L532.0 595.4 L532.1 596.1 L532.1 596.4 L532.2 596.2 L532.2 595.5 L532.3 594.5 L532.4 593.6 L532.4 593.1 L532.5 593.6 L532.5 594.6 L532.5 595.7 L532.6 596.4 L532.6 596.6 L532.7 596.2 L532.8 595.4 L532.8 594.6 L532.9 594.1 L532.9 594.1 L533.0 594.2 L533.0 594.2 L533.0 593.6 L533.1 592.3 L533.1 590.2 L533.2 587.3 L533.2 583.7 L533.3 579.6 L533.4 575.0 L533.4 570.3 L533.5 565.8 L533.5 562.1 L533.5 559.6 L533.6 558.7 L533.6 559.6 L533.7 562.1 L533.8 565.8 L533.8 570.2 L533.9 574.9 L533.9 579.4 L534.0 583.4 L534.0 586.7 L534.0 589.2 L534.1 590.9 L534.1 592.1 L534.2 593.1 L534.2 594.1 L534.3 595.1 L534.4 595.7 L534.4 595.6 L534.5 594.6 L534.5 592.6 L534.5 589.9 L534.6 587.4 L534.6 586.3 L534.7 587.4 L534.8 589.9 L534.8 592.5 L534.9 594.3 L534.9 594.8 L535.0 594.1 L535.0 592.6 L535.0 591.0 L535.1 590.4 L535.1 591.0 L535.2 592.6 L535.2 594.3 L535.3 595.6 L535.4 596.2 L535.4 596.1 L535.5 595.5 L535.5 594.5 L535.5 593.2 L535.6 591.5 L535.6 589.6 L535.7 587.3 L535.8 584.8 L535.8 582.2 L535.9 579.8 L535.9 577.7 L536.0 576.2 L536.0 575.7 L536.0 576.2 L536.1 577.6 L536.1 579.6 L536.2 581.9 L536.2 584.2 L536.3 586.2 L536.4 587.8 L536.4 589.2 L536.5 590.6 L536.5 592.2 L536.5 593.7 L536.6 595.0 L536.6 595.7 L536.7 595.6 L536.8 594.9 L536.8 593.7 L536.9 592.5 L536.9 592.0 L537.0 592.6 L537.0 593.8 L537.0 595.2 L537.1 596.3 L537.1 596.9 L537.2 597.2 L537.2 597.2 L537.3 597.1 L537.4 597.0 L537.4 597.0 L537.5 597.0 L537.5 597.0 L537.5 596.9 L537.6 596.7 L537.6 596.3 L537.7 595.8 L537.8 595.0 L537.8 593.9 L537.9 592.5 L537.9 590.7 L538.0 588.4 L538.0 585.4 L538.0 581.8 L538.1 577.4 L538.1 572.2 L538.2 566.3 L538.2 559.6 L538.3 552.5 L538.4 544.9 L538.4 537.2 L538.5 529.7 L538.5 522.7 L538.5 516.6 L538.6 511.8 L538.6 508.7 L538.7 507.7 L538.8 508.8 L538.8 511.8 L538.9 516.6 L538.9 522.7 L539.0 529.7 L539.0 537.2 L539.0 544.9 L539.1 552.5 L539.1 559.7 L539.2 566.3 L539.2 572.2 L539.3 577.4 L539.4 581.8 L539.4 585.5 L539.5 588.4 L539.5 590.8 L539.5 592.6 L539.6 594.0 L539.6 595.1 L539.7 595.9 L539.8 596.4 L539.8 596.9 L539.9 597.2 L539.9 597.4 L540.0 597.5 L540.0 597.7 L540.0 597.8 L540.1 597.8 L540.1 597.9 L540.2 598.0 L540.2 598.0 L540.3 598.0 L540.4 598.1 L540.4 598.1 L540.5 598.1 L540.5 598.2 L540.5 598.2 L540.6 598.2 L540.6 598.2 L540.7 598.3 L540.8 598.3 L540.8 598.3 L540.9 598.3 L540.9 598.3 L541.0 598.3 L541.0 598.4 L541.0 598.4 L541.1 598.4 L541.1 598.4 L541.2 598.4 L541.2 598.4 L541.3 598.4 L541.4 598.4 L541.4 598.4 L541.5 598.5 L541.5 598.5 L541.5 598.5 L541.6 598.5 L541.6 598.5 L541.7 598.5 L541.8 598.5 L541.8 598.5 L541.9 598.5 L541.9 598.5 L542.0 598.5 L542.0 598.5 L542.0 598.5 L542.1 598.5 L542.1 598.5 L542.2 598.5 L542.2 598.5 L542.3 598.5 L542.4 598.6 L542.4 598.6 L542.5 598.6 L542.5 598.6 L542.5 598.6 L542.6 598.6 L542.6 598.6 L542.7 598.6 L542.8 598.6 L542.8 598.6 L542.9 598.6 L542.9 598.6 L543.0 598.6 L543.0 598.6 L543.0 598.6 L543.1 598.6 L543.1 598.6 L543.2 598.6 L543.2 598.6 L543.3 598.6 L543.4 598.6 L543.4 598.6 L543.5 598.6 L543.5 598.6 L543.5 598.6 L543.6 598.6 L543.6 598.6 L543.7 598.6 L544.7 598.6 L545.7 598.6 L546.7 598.7 L547.7 598.7 L548.7 598.7 L549.7 598.7 L550.7 598.7 L551.7 598.7 L552.7 598.7 L553.7 598.7 L554.7 598.7 L555.7 598.7 L556.7 598.6 L557.7 598.6 L558.7 598.6 L559.7 598.6 L560.7 598.6 L561.7 598.6 L562.7 598.5 L563.7 598.5 L564.7 598.4 L564.8 598.3 L564.8 598.3 L564.9 598.3 L564.9 598.3 L565.0 598.3 L565.0 598.3 L565.0 598.3 L565.1 598.3 L565.1 598.3 L565.2 598.3 L565.2 598.3 L565.3 598.2 L565.4 598.2 L565.4 598.2 L565.5 598.2 L565.5 598.2 L565.5 598.2 L565.6 598.2 L565.6 598.1 L565.7 598.1 L565.8 598.1 L565.8 598.1 L565.9 598.1 L565.9 598.1 L566.0 598.0 L566.0 598.0 L566.0 598.0 L566.1 598.0 L566.1 598.0 L566.2 597.9 L566.2 597.9 L566.3 597.9 L566.4 597.8 L566.4 597.8 L566.5 597.8 L566.5 597.8 L566.5 597.7 L566.6 597.7 L566.6 597.6 L566.7 597.6 L566.8 597.6 L566.8 597.5 L566.9 597.5 L566.9 597.4 L567.0 597.3 L567.0 597.3 L567.0 597.2 L567.1 597.1 L567.1 597.1 L567.2 597.0 L567.2 596.9 L567.3 596.8 L567.4 596.7 L567.4 596.6 L567.5 596.5 L567.5 596.4 L567.5 596.2 L567.6 596.1 L567.6 595.9 L567.7 595.7 L567.8 595.5 L567.8 595.3 L567.9 595.0 L567.9 594.7 L568.0 594.3 L568.0 593.8 L568.0 593.2 L568.1 592.3 L568.1 591.1 L568.2 589.4 L568.2 587.0 L568.3 583.6 L568.4 578.9 L568.4 572.3 L568.5 563.4 L568.5 551.6 L568.5 536.2 L568.6 516.9 L568.6 493.1 L568.7 464.8 L568.8 431.9 L568.8 395.0 L568.9 355.0 L568.9 313.2 L569.0 271.3 L569.0 231.5 L569.0 196.2 L569.1 168.2 L569.1 150.0 L569.2 143.7 L569.2 150.0 L569.3 168.2 L569.4 196.2 L569.4 231.5 L569.5 271.3 L569.5 313.2 L569.5 355.0 L569.6 395.0 L569.6 431.9 L569.7 464.8 L569.8 493.1 L569.8 516.9 L569.9 536.2 L569.9 551.6 L570.0 563.4 L570.0 572.3 L570.0 578.9 L570.1 583.6 L570.1 587.0 L570.2 589.4 L570.2 591.1 L570.3 592.3 L570.4 593.2 L570.4 593.8 L570.5 594.3 L570.5 594.7 L570.5 595.0 L570.6 595.3 L570.6 595.5 L570.7 595.7 L570.8 595.9 L570.8 596.1 L570.9 596.2 L570.9 596.4 L571.0 596.5 L571.0 596.6 L571.0 596.7 L571.1 596.8 L571.1 596.9 L571.2 597.0 L571.2 597.1 L571.3 597.1 L571.4 597.2 L571.4 597.3 L571.5 597.3 L571.5 597.4 L571.5 597.5 L571.6 597.5 L571.6 597.6 L571.7 597.6 L571.8 597.6 L571.8 597.7 L571.9 597.7 L571.9 597.8 L572.0 597.8 L572.0 597.8 L572.0 597.8 L572.1 597.9 L572.1 597.9 L572.2 597.9 L572.2 598.0 L572.3 598.0 L572.4 598.0 L572.4 598.0 L572.5 598.0 L572.5 598.1 L572.5 598.1 L572.6 598.1 L572.6 598.1 L572.7 598.1 L572.8 598.1 L572.8 598.2 L572.9 598.2 L572.9 598.2 L573.0 598.2 L573.0 598.2 L573.0 598.2 L573.1 598.2 L573.1 598.3 L573.2 598.3 L573.2 598.3 L573.3 598.3 L573.4 598.3 L573.4 598.3 L573.5 598.3 L573.5 598.3 L573.5 598.3 L573.6 598.3 L573.6 598.3 L573.7 598.4 L573.8 598.4 L573.8 598.4 L573.9 598.4 L573.9 598.4 L574.0 598.4 L574.0 598.4 L574.0 598.4 L574.1 598.4 L574.1 598.4 L574.2 598.4 L575.2 598.5 L576.2 598.6 L577.2 598.6 L578.2 598.6 L579.2 598.6 L580.2 598.6 L581.2 598.6 L582.2 598.7 L583.2 598.7 L584.2 598.7 L585.2 598.7 L586.2 598.7 L587.2 598.7 L588.2 598.7 L589.2 598.7 L590.2 598.6 L591.2 598.6 L591.2 598.6 L591.3 598.6 L591.4 598.6 L591.4 598.6 L591.5 598.6 L591.5 598.6 L591.5 598.6 L591.6 598.6 L591.6 598.6 L591.7 598.6 L591.8 598.6 L591.8 598.6 L591.9 598.6 L591.9 598.6 L592.0 598.6 L592.0 598.6 L592.0 598.6 L592.1 598.6 L592.1 598.6 L592.2 598.6 L592.2 598.6 L592.3 598.6 L592.4 598.6 L592.4 598.6 L592.5 598.6 L592.5 598.6 L592.5 598.6 L592.6 598.6 L592.6 598.6 L592.7 598.6 L592.8 598.6 L592.8 598.6 L592.9 598.6 L592.9 598.6 L593.0 598.6 L593.0 598.6 L593.0 598.6 L593.1 598.6 L593.1 598.5 L593.2 598.5 L593.2 598.5 L593.3 598.5 L593.4 598.5 L593.4 598.5 L593.5 598.5 L593.5 598.5 L593.5 598.5 L593.6 598.5 L593.6 598.5 L593.7 598.5 L593.8 598.5 L593.8 598.5 L593.9 598.4 L593.9 598.4 L594.0 598.4 L594.0 598.4 L594.0 598.4 L594.1 598.4 L594.1 598.4 L594.2 598.4 L594.2 598.3 L594.3 598.3 L594.4 598.3 L594.4 598.3 L594.5 598.2 L594.5 598.2 L594.5 598.2 L594.6 598.1 L594.6 598.1 L594.7 598.0 L594.8 597.9 L594.8 597.8 L594.9 597.7 L594.9 597.5 L595.0 597.2 L595.0 596.8 L595.0 596.3 L595.1 595.6 L595.1 594.6 L595.2 593.4 L595.2 591.8 L595.3 589.8 L595.4 587.4 L595.4 584.4 L595.5 581.0 L595.5 577.0 L595.5 572.6 L595.6 567.7 L595.6 562.7 L595.7 557.5 L595.8 552.5 L595.8 547.8 L595.9 543.7 L595.9 540.5 L596.0 538.4 L596.0 537.7 L596.0 538.4 L596.1 540.5 L596.1 543.7 L596.2 547.8 L596.2 552.5 L596.3 557.5 L596.4 562.7 L596.4 567.7 L596.5 572.6 L596.5 577.0 L596.5 581.0 L596.6 584.4 L596.6 587.4 L596.7 589.8 L596.8 591.8 L596.8 593.4 L596.9 594.6 L596.9 595.6 L597.0 596.3 L597.0 596.8 L597.0 597.2 L597.1 597.5 L597.1 597.7 L597.2 597.8 L597.2 597.9 L597.3 598.0 L597.4 598.1 L597.4 598.1 L597.5 598.2 L597.5 598.2 L597.5 598.2 L597.6 598.3 L597.6 598.3 L597.7 598.3 L597.8 598.3 L597.8 598.4 L597.9 598.4 L597.9 598.4 L598.0 598.4 L598.0 598.4 L598.0 598.4 L598.1 598.4 L598.1 598.5 L598.2 598.5 L598.2 598.5 L598.3 598.5 L598.4 598.5 L598.4 598.5 L598.5 598.5 L598.5 598.5 L598.5 598.5 L598.6 598.5 L598.6 598.5 L598.7 598.5 L598.8 598.5 L598.8 598.5 L598.9 598.6 L598.9 598.6 L599.0 598.6 L599.0 598.6 L599.0 598.6 L599.1 598.6 L599.1 598.6 L599.2 598.6 L599.2 598.6 L599.3 598.6 L599.4 598.6 L599.4 598.6 L599.5 598.6 L599.5 598.6 L599.5 598.6 L599.6 598.6 L599.6 598.6 L599.7 598.6 L599.8 598.6 L599.8 598.6 L599.9 598.6 L599.9 598.6 L600.0 598.6 L600.0 598.6 L600.0 598.6 L600.1 598.6 L600.1 598.6 L600.2 598.6 L600.2 598.6 L600.3 598.6 L600.4 598.6 L600.4 598.6 L600.5 598.6 L600.5 598.6 L600.5 598.6 L600.6 598.6 L600.6 598.6 L600.7 598.6 L600.8 598.6 L600.8 598.6 L600.9 598.6 L600.9 598.6 L601.0 598.6 L601.0 598.6 L602.0 598.7 L603.0 598.7 L604.0 598.7 L605.0 598.7 L606.0 598.7 L607.0 598.7 L608.0 598.7 L609.0 598.7 L610.0 598.7 L611.0 598.7 L612.0 598.7 L613.0 598.7 L614.0 598.7 L615.0 598.7 L616.0 598.7 L617.0 598.7 L618.0 598.7 L619.0 598.7 L620.0 598.7 L621.0 598.7 L622.0 598.7 L623.0 598.7 L624.0 598.7 L625.0 598.7 L626.0 598.7 L627.0 598.7 L628.0 598.6 L628.0 598.6 L628.1 598.6 L628.1 598.6 L628.2 598.6 L628.2 598.6 L628.3 598.6 L628.4 598.6 L628.4 598.6 L628.5 598.6 L628.5 598.6 L628.5 598.6 L628.6 598.6 L628.6 598.6 L628.7 598.6 L628.8 598.6 L628.8 598.6 L628.9 598.6 L628.9 598.6 L629.0 598.6 L629.0 598.6 L629.0 598.6 L629.1 598.6 L629.1 598.6 L629.2 598.6 L629.2 598.6 L629.3 598.6 L629.4 598.6 L629.4 598.6 L629.5 598.6 L629.5 598.6 L629.5 598.6 L629.6 598.6 L629.6 598.6 L629.7 598.6 L629.8 598.6 L629.8 598.6 L629.9 598.6 L629.9 598.6 L630.0 598.6 L630.0 598.6 L630.0 598.6 L630.1 598.6 L630.1 598.6 L630.2 598.6 L630.2 598.6 L630.3 598.6 L630.4 598.6 L630.4 598.6 L630.5 598.6 L630.5 598.6 L630.5 598.6 L630.6 598.6 L630.6 598.5 L630.7 598.5 L630.8 598.5 L630.8 598.5 L630.9 598.5 L630.9 598.5 L631.0 598.5 L631.0 598.5 L631.0 598.5 L631.1 598.5 L631.1 598.5 L631.2 598.5 L631.2 598.5 L631.3 598.5 L631.4 598.5 L631.4 598.4 L631.5 598.4 L631.5 598.4 L631.5 598.4 L631.6 598.4 L631.6 598.4 L631.7 598.4 L631.8 598.3 L631.8 598.3 L631.9 598.3 L631.9 598.3 L632.0 598.2 L632.0 598.2 L632.0 598.1 L632.1 598.0 L632.1 597.8 L632.2 597.6 L632.2 597.3 L632.3 596.9 L632.4 596.4 L632.4 595.6 L632.5 594.7 L632.5 593.6 L632.5 592.3 L632.6 590.7 L632.6 589.0 L632.7 587.2 L632.8 585.3 L632.8 583.4 L632.9 581.7 L632.9 580.3 L633.0 579.3 L633.0 578.7 L633.0 578.6 L633.1 578.9 L633.1 579.5 L633.2 580.1 L633.2 580.7 L633.3 581.0 L633.4 581.1 L633.4 580.7 L633.5 579.9 L633.5 578.7 L633.5 577.1 L633.6 575.3 L633.6 573.5 L633.7 571.6 L633.8 570.0 L633.8 568.7 L633.9 567.7 L633.9 567.1 L634.0 566.6 L634.0 566.1 L634.0 565.5 L634.1 564.7 L634.1 563.8 L634.2 562.7 L634.2 561.6 L634.3 560.7 L634.4 560.0 L634.4 559.7 L634.5 559.9 L634.5 560.6 L634.5 561.6 L634.6 562.6 L634.6 563.7 L634.7 564.6 L634.8 565.3 L634.8 565.9 L634.9 566.4 L634.9 566.9 L635.0 567.7 L635.0 568.7 L635.0 570.1 L635.1 572.0 L635.1 574.1 L635.2 576.3 L635.2 578.4 L635.3 580.4 L635.4 582.0 L635.4 583.3 L635.5 584.0 L635.5 584.3 L635.5 584.0 L635.6 583.4 L635.6 582.5 L635.7 581.4 L635.8 580.3 L635.8 579.4 L635.9 578.8 L635.9 578.7 L636.0 579.1 L636.0 580.1 L636.0 581.5 L636.1 583.2 L636.1 585.0 L636.2 587.0 L636.2 588.8 L636.3 590.6 L636.4 592.2 L636.4 593.5 L636.5 594.7 L636.5 595.6 L636.5 596.3 L636.6 596.9 L636.6 597.3 L636.7 597.6 L636.8 597.8 L636.8 598.0 L636.9 598.1 L636.9 598.1 L637.0 598.2 L637.0 598.2 L637.0 598.3 L637.1 598.3 L637.1 598.3 L637.2 598.3 L637.2 598.4 L637.3 598.4 L637.4 598.4 L637.4 598.4 L637.5 598.4 L637.5 598.4 L637.5 598.4 L637.6 598.4 L637.6 598.4 L637.7 598.5 L637.8 598.5 L637.8 598.5 L637.9 598.5 L637.9 598.5 L638.0 598.5 L638.0 598.5 L638.0 598.5 L638.1 598.5 L638.1 598.5 L638.2 598.5 L638.2 598.5 L638.3 598.5 L638.4 598.5 L638.4 598.5 L638.5 598.5 L638.5 598.5 L638.5 598.5 L638.6 598.5 L638.6 598.5 L638.7 598.5 L638.8 598.5 L638.8 598.5 L638.9 598.5 L638.9 598.5 L639.0 598.5 L639.0 598.5 L639.0 598.5 L639.1 598.5 L639.1 598.5 L639.2 598.5 L639.2 598.5 L639.3 598.5 L639.4 598.5 L639.4 598.5 L639.5 598.5 L639.5 598.5 L639.5 598.5 L639.6 598.5 L639.6 598.5 L639.7 598.5 L639.8 598.5 L639.8 598.5 L639.9 598.5 L639.9 598.5 L640.0 598.5 L640.0 598.5 L640.0 598.5 L640.1 598.5 L640.1 598.5 L640.2 598.5 L640.2 598.5 L640.3 598.5 L640.4 598.5 L640.4 598.5 L640.5 598.5 L640.5 598.5 L640.5 598.5 L640.6 598.5 L640.6 598.5 L640.7 598.4 L640.8 598.4 L640.8 598.4 L640.9 598.4 L640.9 598.4 L641.0 598.4 L641.0 598.4 L641.0 598.4 L641.1 598.4 L641.1 598.3 L641.2 598.3 L641.2 598.3 L641.3 598.3 L641.4 598.3 L641.4 598.2 L641.5 598.2 L641.5 598.1 L641.5 598.0 L641.6 597.8 L641.6 597.6 L641.7 597.3 L641.8 596.9 L641.8 596.4 L641.9 595.8 L641.9 595.0 L642.0 594.1 L642.0 593.0 L642.0 591.8 L642.1 590.4 L642.1 589.0 L642.2 587.6 L642.2 586.2 L642.3 584.8 L642.4 583.7 L642.4 582.7 L642.5 581.9 L642.5 581.2 L642.5 580.6 L642.6 580.0 L642.6 579.3 L642.7 578.5 L642.8 577.5 L642.8 576.5 L642.9 575.4 L642.9 574.3 L643.0 573.4 L643.0 572.7 L643.0 572.2 L643.1 572.0 L643.1 571.8 L643.2 571.5 L643.2 571.2 L643.3 570.7 L643.4 570.0 L643.4 569.1 L643.5 568.3 L643.5 567.5 L643.5 566.9 L643.6 566.7 L643.6 566.9 L643.7 567.4 L643.8 568.1 L643.8 568.9 L643.9 569.6 L643.9 570.3 L644.0 570.7 L644.0 571.1 L644.0 571.3 L644.1 571.6 L644.1 572.0 L644.2 572.7 L644.2 573.7 L644.3 574.9 L644.4 576.4 L644.4 577.9 L644.5 579.3 L644.5 580.6 L644.5 581.7 L644.6 582.5 L644.6 583.1 L644.7 583.5 L644.8 583.8 L644.8 584.0 L644.9 584.3 L644.9 584.7 L645.0 585.3 L645.0 586.2 L645.0 587.3 L645.1 588.5 L645.1 589.7 L645.2 591.0 L645.2 592.2 L645.3 593.3 L645.4 594.3 L645.4 595.2 L645.5 595.9 L645.5 596.5 L645.5 597.0 L645.6 597.3 L645.6 597.6 L645.7 597.8 L645.8 597.9 L645.8 598.0 L645.9 598.1 L645.9 598.1 L646.0 598.2 L646.0 598.2 L646.0 598.2 L646.1 598.2 L646.1 598.3 L646.2 598.3 L646.2 598.3 L646.3 598.3 L646.4 598.3 L646.4 598.3 L646.5 598.3 L646.5 598.3 L646.5 598.3 L646.6 598.3 L646.6 598.3 L646.7 598.3 L646.8 598.3 L646.8 598.3 L646.9 598.3 L646.9 598.3 L647.0 598.3 L647.0 598.3 L647.0 598.3 L647.1 598.3 L647.1 598.2 L647.2 598.2 L647.2 598.2 L647.3 598.2 L647.4 598.2 L647.4 598.2 L647.5 598.2 L647.5 598.1 L647.5 598.1 L647.6 598.1 L647.6 598.0 L647.7 598.0 L647.8 597.9 L647.8 597.8 L647.9 597.6 L647.9 597.5 L648.0 597.2 L648.0 596.9 L648.0 596.5 L648.1 596.0 L648.1 595.4 L648.2 594.7 L648.2 593.9 L648.3 593.0 L648.4 592.1 L648.4 591.0 L648.5 590.0 L648.5 588.9 L648.5 587.8 L648.6 586.7 L648.6 585.6 L648.7 584.3 L648.8 582.9 L648.8 581.2 L648.9 579.3 L648.9 577.0 L649.0 574.4 L649.0 571.5 L649.0 568.4 L649.1 565.2 L649.1 561.9 L649.2 558.7 L649.2 555.6 L649.3 552.5 L649.4 549.4 L649.4 546.2 L649.5 542.9 L649.5 539.6 L649.5 536.2 L649.6 533.0 L649.6 530.1 L649.7 527.7 L649.8 526.2 L649.8 525.7 L649.9 526.2 L649.9 527.7 L650.0 530.1 L650.0 533.0 L650.0 536.2 L650.1 539.6 L650.1 542.9 L650.2 546.2 L650.2 549.4 L650.3 552.5 L650.4 555.6 L650.4 558.7 L650.5 561.9 L650.5 565.2 L650.5 568.4 L650.6 571.5 L650.6 574.4 L650.7 577.0 L650.8 579.3 L650.8 581.2 L650.9 582.9 L650.9 584.3 L651.0 585.5 L651.0 586.7 L651.0 587.8 L651.1 588.9 L651.1 590.0 L651.2 591.1 L651.2 592.1 L651.3 593.0 L651.4 593.9 L651.4 594.7 L651.5 595.4 L651.5 596.0 L651.5 596.5 L651.6 596.9 L651.6 597.3 L651.7 597.5 L651.8 597.7 L651.8 597.8 L651.9 597.9 L651.9 598.0 L652.0 598.1 L652.0 598.1 L652.0 598.2 L652.1 598.2 L652.1 598.2 L652.2 598.3 L652.2 598.3 L652.3 598.3 L652.4 598.3 L652.4 598.3 L652.5 598.3 L652.5 598.4 L652.5 598.4 L652.6 598.4 L652.6 598.4 L652.7 598.4 L652.8 598.4 L652.8 598.4 L652.9 598.4 L652.9 598.4 L653.0 598.4 L653.0 598.5 L653.0 598.5 L653.1 598.5 L653.1 598.5 L653.2 598.5 L653.2 598.5 L653.3 598.5 L653.4 598.5 L653.4 598.5 L653.5 598.5 L653.5 598.5 L653.5 598.5 L653.6 598.5 L653.6 598.5 L653.7 598.5 L653.8 598.5 L653.8 598.5 L653.9 598.5 L653.9 598.5 L654.0 598.5 L654.0 598.5 L654.0 598.6 L654.1 598.6 L654.1 598.6 L654.2 598.6 L654.2 598.6 L654.3 598.6 L654.4 598.6 L654.4 598.6 L654.5 598.6 L654.5 598.6 L654.5 598.6 L654.6 598.6 L654.6 598.6 L654.7 598.6 L654.8 598.6 L654.8 598.6 L654.9 598.6 L654.9 598.6 L655.0 598.6 L655.0 598.6 L655.0 598.6 L655.1 598.6 L655.1 598.6 L655.2 598.6 L655.2 598.6 L655.3 598.6 L655.4 598.6 L655.4 598.6 L655.5 598.6 L655.5 598.6 L655.5 598.6 L655.6 598.6 L655.6 598.6 L655.7 598.6 L655.8 598.6 L655.8 598.6 L655.9 598.6 L655.9 598.6 L656.0 598.6 L656.0 598.6 L657.0 598.6 L658.0 598.6 L659.0 598.6 L660.0 598.6 L661.0 598.6 L662.0 598.6 L663.0 598.6 L664.0 598.5 L664.0 598.5 L664.1 598.5 L664.1 598.5 L664.2 598.5 L664.2 598.5 L664.3 598.5 L664.4 598.5 L664.4 598.5 L664.5 598.5 L664.5 598.5 L664.5 598.5 L664.6 598.5 L664.6 598.5 L664.7 598.5 L664.8 598.5 L664.8 598.5 L664.9 598.4 L664.9 598.4 L665.0 598.4 L665.0 598.4 L665.0 598.4 L665.1 598.4 L665.1 598.4 L665.2 598.4 L665.2 598.4 L665.3 598.4 L665.4 598.4 L665.4 598.4 L665.5 598.3 L665.5 598.3 L665.5 598.3 L665.6 598.3 L665.6 598.3 L665.7 598.3 L665.8 598.3 L665.8 598.2 L665.9 598.2 L665.9 598.2 L666.0 598.2 L666.0 598.2 L666.0 598.2 L666.1 598.1 L666.1 598.1 L666.2 598.1 L666.2 598.0 L666.3 598.0 L666.4 598.0 L666.4 598.0 L666.5 597.9 L666.5 597.9 L666.5 597.8 L666.6 597.8 L666.6 597.7 L666.7 597.7 L666.8 597.6 L666.8 597.6 L666.9 597.5 L666.9 597.4 L667.0 597.3 L667.0 597.2 L667.0 597.0 L667.1 596.9 L667.1 596.7 L667.2 596.4 L667.2 596.0 L667.3 595.4 L667.4 594.7 L667.4 593.6 L667.5 592.2 L667.5 590.3 L667.5 587.8 L667.6 584.4 L667.6 580.1 L667.7 574.8 L667.8 568.1 L667.8 560.1 L667.9 550.8 L667.9 540.0 L668.0 528.0 L668.0 515.0 L668.0 501.3 L668.1 487.3 L668.1 473.6 L668.2 460.9 L668.2 449.8 L668.3 441.2 L668.4 435.6 L668.4 433.7 L668.5 435.6 L668.5 441.2 L668.5 449.8 L668.6 460.9 L668.6 473.6 L668.7 487.3 L668.8 501.3 L668.8 515.0 L668.9 528.0 L668.9 540.0 L669.0 550.8 L669.0 560.1 L669.0 568.1 L669.1 574.8 L669.1 580.1 L669.2 584.4 L669.2 587.8 L669.3 590.3 L669.4 592.2 L669.4 593.6 L669.5 594.7 L669.5 595.4 L669.5 596.0 L669.6 596.4 L669.6 596.7 L669.7 596.9 L669.8 597.1 L669.8 597.2 L669.9 597.3 L669.9 597.4 L670.0 597.5 L670.0 597.6 L670.0 597.6 L670.1 597.7 L670.1 597.7 L670.2 597.8 L670.2 597.8 L670.3 597.9 L670.4 597.9 L670.4 598.0 L670.5 598.0 L670.5 598.0 L670.5 598.1 L670.6 598.1 L670.6 598.1 L670.7 598.1 L670.8 598.2 L670.8 598.2 L670.9 598.2 L670.9 598.2 L671.0 598.2 L671.0 598.3 L671.0 598.3 L671.1 598.3 L671.1 598.3 L671.2 598.3 L671.2 598.3 L671.3 598.3 L671.4 598.3 L671.4 598.4 L671.5 598.4 L671.5 598.4 L671.5 598.4 L671.6 598.4 L671.6 598.4 L671.7 598.4 L671.8 598.4 L671.8 598.4 L671.9 598.4 L671.9 598.4 L672.0 598.5 L672.0 598.5 L672.0 598.5 L672.1 598.5 L672.1 598.5 L672.2 598.5 L672.2 598.5 L672.3 598.5 L672.4 598.5 L672.4 598.5 L672.5 598.5 L672.5 598.5 L672.5 598.5 L672.6 598.5 L672.6 598.5 L672.7 598.5 L672.8 598.5 L672.8 598.5 L672.9 598.5 L672.9 598.5 L673.0 598.5 L673.0 598.6 L673.0 598.6 L673.1 598.6 L673.1 598.6 L673.2 598.6 L673.2 598.6 L673.3 598.6 L673.4 598.6 L673.4 598.6 L674.4 598.6 L675.4 598.6 L676.4 598.6 L677.4 598.7 L678.4 598.7 L679.4 598.7 L680.4 598.7 L681.4 598.7 L682.4 598.7 L683.4 598.7 L684.4 598.7 L685.4 598.7 L686.4 598.7 L687.4 598.7 L688.4 598.7 L689.4 598.7 L690.4 598.7 L691.4 598.7 L692.4 598.7 L693.4 598.7 L694.4 598.7 L695.4 598.7 L696.4 598.7 L697.4 598.7 L698.4 598.7 L699.4 598.7 L700.4 598.7 L701.4 598.7 L702.4 598.7 L703.4 598.7 L704.4 598.7 L705.4 598.7 L706.4 598.7 L707.4 598.7 L708.4 598.7 L709.4 598.7 L710.4 598.7 L711.4 598.7 L712.4 598.7 L713.4 598.7 L714.4 598.7 L715.4 598.7 L716.4 598.7 L717.4 598.7 L718.4 598.7 L719.4 598.7 L720.4 598.7 L721.4 598.7 L722.4 598.7 L723.4 598.7 L724.4 598.7 L725.4 598.7 L726.4 598.7 L727.4 598.7 L728.4 598.7 L729.4 598.7 L730.4 598.7 L731.4 598.7 L732.4 598.7 L733.4 598.7 L734.4 598.7 L735.4 598.7 L736.4 598.7 L737.4 598.7 L738.4 598.7 L739.4 598.7 L740.4 598.7 L741.4 598.7 L742.4 598.7 L743.4 598.7 L744.4 598.7 L745.4 598.7 L746.4 598.7 L747.4 598.7 L748.4 598.7 L749.4 598.7 L750.4 598.7 L751.4 598.7 L752.4 598.7 L753.4 598.7 L754.4 598.7 L755.4 598.7 L756.4 598.7 L757.4 598.7 L758.4 598.7 L759.4 598.7 L760.4 598.7 L761.4 598.7 L762.4 598.7 L763.4 598.7 L764.4 598.7 L765.4 598.7 L766.4 598.7 L767.4 598.7 L768.4 598.7 L769.4 598.7 L770.4 598.7 L771.4 598.7 L772.4 598.7 L773.4 598.7 L774.4 598.7 L775.4 598.7 L776.4 598.7 L777.4 598.7 L778.4 598.7 L779.4 598.7 L780.4 598.7 L781.4 598.7 L782.4 598.7 L783.4 598.7 L784.4 598.7 L785.4 598.7 L786.4 598.7 L787.4 598.7 L788.4 598.7 L789.4 598.7 L790.4 598.7 L791.4 598.7 L792.4 598.7 L793.4 598.7 L794.4 598.7 L795.4 598.7 L796.4 598.7 L797.4 598.7 L798.4 598.7 L799.4 598.7 L800.4 598.7 L801.4 598.7 L802.4 598.7 L803.4 598.7 L804.4 598.7 L805.4 598.7 L806.4 598.7 L807.4 598.7 L808.4 598.7 L809.4 598.7 L810.4 598.7 L811.4 598.7 L812.4 598.7 L813.4 598.7 L814.4 598.7 L815.4 598.7 L816.4 598.7 L817.4 598.7 L818.4 598.7 L819.4 598.7 L820.4 598.7 L821.4 598.7 L822.4 598.7 L823.4 598.7 L824.4 598.7 L825.4 598.7 L826.4 598.7 L827.4 598.7 L828.4 598.7 L829.4 598.7 L830.4 598.7 L831.4 598.7 L832.4 598.7 L833.4 598.7 L834.4 598.7 L835.4 598.7 L836.4 598.7 L837.4 598.7 L838.4 598.7 L839.4 598.7 L840.4 598.7 L841.4 598.7 L842.4 598.7 L843.4 598.7 L844.4 598.7 L845.4 598.7 L846.4 598.7 L847.4 598.7 L848.4 598.7 L849.4 598.7 L850.4 598.7 L851.4 598.7 L852.4 598.7 L853.4 598.7 L854.4 598.7 L855.4 598.7 L856.4 598.7 L857.4 598.7 L858.4 598.7 L859.4 598.7 L860.4 598.7 L861.4 598.7 L862.4 598.7 L863.4 598.7 L864.4 598.7 L865.4 598.7 L866.4 598.7 L867.4 598.7 L868.4 598.7 L869.4 598.7 L870.4 598.7 L871.4 598.7 L872.4 598.7 L873.4 598.7 L874.4 598.7 L875.4 598.7 L876.4 598.7 L877.4 598.7 L878.4 598.7 L879.4 598.7 L880.4 598.7 L881.4 598.7 L882.4 598.7 L883.4 598.7 L884.4 598.7 L885.4 598.7 L886.4 598.7 L887.4 598.7 L888.4 598.7 L889.4 598.7 L890.4 598.7 L891.4 598.7 L891.5 598.7 L891.5 598.7 L891.5 598.7 L891.6 598.7 L891.6 598.7 L891.7 598.7 L891.8 598.7 L891.8 598.7 L891.9 598.7 L891.9 598.7 L892.0 598.7 L892.0 598.7 L892.0 598.7 L892.1 598.7 L892.1 598.7 L892.2 598.7 L892.2 598.7 L892.3 598.7 L892.4 598.7 L892.4 598.7 L892.5 598.7 L892.5 598.7 L892.5 598.7 L892.6 598.7 L892.6 598.7 L892.7 598.7 L892.8 598.7 L892.8 598.7 L892.9 598.7 L892.9 598.6 L893.0 598.6 L893.0 598.6 L893.0 598.6 L893.1 598.6 L893.1 598.6 L893.2 598.6 L893.2 598.6 L893.3 598.6 L893.4 598.6 L893.4 598.6 L893.5 598.6 L893.5 598.6 L893.5 598.6 L893.6 598.6 L893.6 598.6 L893.7 598.6 L893.8 598.6 L893.8 598.6 L893.9 598.6 L893.9 598.6 L894.0 598.6 L894.0 598.6 L894.0 598.6 L894.1 598.6 L894.1 598.6 L894.2 598.6 L894.2 598.6 L894.3 598.6 L894.4 598.5 L894.4 598.5 L894.5 598.5 L894.5 598.5 L894.5 598.5 L894.6 598.5 L894.6 598.5 L894.7 598.5 L894.8 598.4 L894.8 598.4 L894.9 598.4 L894.9 598.4 L895.0 598.3 L895.0 598.3 L895.0 598.2 L895.1 598.1 L895.1 598.0 L895.2 597.8 L895.2 597.5 L895.3 597.2 L895.4 596.7 L895.4 596.1 L895.5 595.3 L895.5 594.3 L895.5 593.1 L895.6 591.7 L895.6 590.0 L895.7 588.0 L895.8 585.8 L895.8 583.5 L895.9 581.0 L895.9 578.4 L896.0 576.0 L896.0 573.6 L896.0 571.6 L896.1 570.1 L896.1 569.0 L896.2 568.7 L896.2 569.0 L896.3 570.1 L896.4 571.6 L896.4 573.6 L896.5 576.0 L896.5 578.4 L896.5 581.0 L896.6 583.5 L896.6 585.8 L896.7 588.0 L896.8 590.0 L896.8 591.7 L896.9 593.1 L896.9 594.3 L897.0 595.3 L897.0 596.1 L897.0 596.7 L897.1 597.2 L897.1 597.5 L897.2 597.8 L897.2 598.0 L897.3 598.1 L897.4 598.2 L897.4 598.3 L897.5 598.3 L897.5 598.4 L897.5 598.4 L897.6 598.4 L897.6 598.4 L897.7 598.5 L897.8 598.5 L897.8 598.5 L897.9 598.5 L897.9 598.5 L898.0 598.5 L898.0 598.5 L898.0 598.5 L898.1 598.6 L898.1 598.6 L898.2 598.6 L898.2 598.6 L898.3 598.6 L898.4 598.6 L898.4 598.6 L898.5 598.6 L898.5 598.6 L898.5 598.6 L898.6 598.6 L898.6 598.6 L898.7 598.6 L898.8 598.6 L898.8 598.6 L898.9 598.6 L898.9 598.6 L899.0 598.6 L899.0 598.6 L899.0 598.6 L899.1 598.6 L899.1 598.6 L899.2 598.6 L899.2 598.6 L899.3 598.6 L899.4 598.6 L899.4 598.6 L899.5 598.6 L899.5 598.6 L899.5 598.7 L899.6 598.7 L899.6 598.7 L899.7 598.7 L899.8 598.7 L899.8 598.7 L899.9 598.7 L899.9 598.7 L900.0 598.7 L900.0 598.7 L900.0 598.7 L900.1 598.7 L900.1 598.7 L900.2 598.7 L900.2 598.7 L900.3 598.7 L900.4 598.7 L900.4 598.7 L900.5 598.7 L900.5 598.7 L900.5 598.7 L900.6 598.7 L900.6 598.7 L900.7 598.7 L900.8 598.7 L900.8 598.7 L900.9 598.7 L900.9 598.7 L901.0 598.7 L901.0 598.7 L901.0 598.7 L901.1 598.7 L901.1 598.7 L901.2 598.7 L902.2 598.7 L903.2 598.7 L904.2 598.7 L905.2 598.7 L906.2 598.7 L907.2 598.7 L908.2 598.7 L909.2 598.7 L910.2 598.7 L911.2 598.7 L912.2 598.7 L913.2 598.7 L914.2 598.7 L915.2 598.7 L916.2 598.7 L917.2 598.7 L918.2 598.7 L919.2 598.7 L920.2 598.7 L921.2 598.7 L922.2 598.7 L923.2 598.7 L924.2 598.7 L925.2 598.7 L926.2 598.7 L927.2 598.7 L928.2 598.7 L929.2 598.7 L930.2 598.7 L931.2 598.7 L932.2 598.7 L933.2 598.7 L934.2 598.7 L935.2 598.7 L936.2 598.7 L937.2 598.7 L938.2 598.7 L939.2 598.7 L940.2 598.7 L941.2 598.7 L942.2 598.7 L943.2 598.7 L944.2 598.7 L945.2 598.7 L946.2 598.7 L947.2 598.7 L948.2 598.7 L949.2 598.7 L950.2 598.7 L951.2 598.7 L952.2 598.7 L953.2 598.7 L954.2 598.7 L955.2 598.7 L956.2 598.7 L957.2 598.7 L958.2 598.7 L959.2 598.7 L960.2 598.7 L961.2 598.7 L962.2 598.7 L963.2 598.7 L964.2 598.7 L965.2 598.7 L966.2 598.7 L967.2 598.7 L968.2 598.7 L969.2 598.7 L970.2 598.7 L971.2 598.7 L972.2 598.7 L973.2 598.7 L974.2 598.7 L975.2 598.7 L976.2 598.7 L977.2 598.7 L978.2 598.7 L979.2 598.7 L980.2 598.7 L981.2 598.7 L982.2 598.7 L983.2 598.7 L984.2 598.7 L985.2 598.7 L986.2 598.7 L987.2 598.7 L988.2 598.7 L989.2 598.7 L990.2 598.7 L991.2 598.7" fill="none" stroke="#2e2e2e" stroke-width="1.25" stroke-linejoin="round"/>
<g stroke="#ff3030" stroke-width="1.2" fill="none">
<path d="M569.2 143.2 L569.2 149.2 M649.8 525.2 L649.8 531 M649.8 542.8 L649.8 549 M649.8 568.5 L649.8 574.8"/>
</g>
<g font-family="'Liberation Serif', serif" font-size="12.5" fill="#333">
<text transform="translate(176.9,649.8) rotate(-90)">4.02</text><text transform="translate(190.2,649.8) rotate(-90)">1.01</text><text transform="translate(203.7,649.8) rotate(-90)">3.09</text><text transform="translate(217.6,649.8) rotate(-90)">1.00</text><text transform="translate(418.8,649.8) rotate(-90)">2.00</text><text transform="translate(509.1,649.8) rotate(-90)">2.00</text><text transform="translate(538.5,649.8) rotate(-90)">4.05</text><text transform="translate(598.8,649.8) rotate(-90)">2.00</text><text transform="translate(640.1,649.8) rotate(-90)">2.01</text><text transform="translate(654.1,649.8) rotate(-90)">2.00</text><text transform="translate(668.5,649.8) rotate(-90)">3.09</text>
</g>
<g stroke="#444" stroke-width="1" fill="none">
<path d="M171.3 616.6 L171.3 622.4 M177.5 616.6 L177.5 622.4 M171.3 619.5 L177.5 619.5 M174.4 619.5 L174.4 621 L173.3 625.5 L173.3 627.5"/><path d="M177.5 616.6 L177.5 622.4 M182.4 616.6 L182.4 622.4 M177.5 619.5 L182.4 619.5 M180.0 619.5 L180.0 621 L186.6 625.5 L186.6 627.5"/><path d="M190.5 616.6 L190.5 622.4 M200.4 616.6 L200.4 622.4 M190.5 619.5 L200.4 619.5 M195.5 619.5 L195.5 621 L200.1 625.5 L200.1 627.5"/><path d="M214.8 616.6 L214.8 622.4 M218.7 616.6 L218.7 622.4 M214.8 619.5 L218.7 619.5 M216.7 619.5 L216.7 621 L214.0 625.5 L214.0 627.5"/><path d="M414.5 616.6 L414.5 622.4 M418.3 616.6 L418.3 622.4 M414.5 619.5 L418.3 619.5 M416.4 619.5 L416.4 621 L415.2 625.5 L415.2 627.5"/><path d="M501.6 616.6 L501.6 622.4 M510.0 616.6 L510.0 622.4 M501.6 619.5 L510.0 619.5 M505.8 619.5 L505.8 621 L505.5 625.5 L505.5 627.5"/><path d="M531.0 616.6 L531.0 622.4 M540.9 616.6 L540.9 622.4 M531.0 619.5 L540.9 619.5 M536.0 619.5 L536.0 621 L534.9 625.5 L534.9 627.5"/><path d="M593.6 616.6 L593.6 622.4 M599.4 616.6 L599.4 622.4 M593.6 619.5 L599.4 619.5 M596.5 619.5 L596.5 621 L595.2 625.5 L595.2 627.5"/><path d="M631.8 616.6 L631.8 622.4 M638.1 616.6 L638.1 622.4 M631.8 619.5 L638.1 619.5 M635.0 619.5 L635.0 621 L636.5 625.5 L636.5 627.5"/><path d="M640.8 616.6 L640.8 622.4 M647.1 616.6 L647.1 622.4 M640.8 619.5 L647.1 619.5 M644.0 619.5 L644.0 621 L650.5 625.5 L650.5 627.5"/><path d="M665.1 616.6 L665.1 622.4 M670.5 616.6 L670.5 622.4 M665.1 619.5 L670.5 619.5 M667.8 619.5 L667.8 621 L664.9 625.5 L664.9 627.5"/>
</g>
<path d="M9 658.4 L992 658.4" stroke="#ff4a4a" stroke-width="1.1"/>
<g stroke="#ff4a4a" stroke-width="1.1"><path d="M970.5 658 L970.5 661"/><path d="M945.9 658 L945.9 663.3"/><path d="M921.2 658 L921.2 661"/><path d="M896.5 658 L896.5 663.3"/><path d="M871.8 658 L871.8 661"/><path d="M847.1 658 L847.1 663.3"/><path d="M822.5 658 L822.5 661"/><path d="M797.8 658 L797.8 663.3"/><path d="M773.1 658 L773.1 661"/><path d="M748.5 658 L748.5 663.3"/><path d="M723.8 658 L723.8 661"/><path d="M699.1 658 L699.1 663.3"/><path d="M674.4 658 L674.4 661"/><path d="M649.8 658 L649.8 663.3"/><path d="M625.1 658 L625.1 661"/><path d="M600.4 658 L600.4 663.3"/><path d="M575.7 658 L575.7 661"/><path d="M551.0 658 L551.0 663.3"/><path d="M526.4 658 L526.4 661"/><path d="M501.7 658 L501.7 663.3"/><path d="M477.0 658 L477.0 661"/><path d="M452.3 658 L452.3 663.3"/><path d="M427.7 658 L427.7 661"/><path d="M403.0 658 L403.0 663.3"/><path d="M378.3 658 L378.3 661"/><path d="M353.6 658 L353.6 663.3"/><path d="M329.0 658 L329.0 661"/><path d="M304.3 658 L304.3 663.3"/><path d="M279.6 658 L279.6 661"/><path d="M254.9 658 L254.9 663.3"/><path d="M230.3 658 L230.3 661"/><path d="M205.6 658 L205.6 663.3"/><path d="M180.9 658 L180.9 661"/><path d="M156.2 658 L156.2 663.3"/><path d="M131.6 658 L131.6 661"/><path d="M106.9 658 L106.9 663.3"/><path d="M82.2 658 L82.2 661"/><path d="M57.5 658 L57.5 663.3"/><path d="M32.9 658 L32.9 661"/></g>
<g font-family="'Liberation Serif', serif" font-size="12" fill="#ff5a5a" letter-spacing="1.6"><text x="946.5" y="673.7" text-anchor="middle">-0.5</text><text x="897.1" y="673.7" text-anchor="middle">0.0</text><text x="847.8" y="673.7" text-anchor="middle">0.5</text><text x="798.4" y="673.7" text-anchor="middle">1.0</text><text x="749.1" y="673.7" text-anchor="middle">1.5</text><text x="699.7" y="673.7" text-anchor="middle">2.0</text><text x="650.4" y="673.7" text-anchor="middle">2.5</text><text x="601.0" y="673.7" text-anchor="middle">3.0</text><text x="551.6" y="673.7" text-anchor="middle">3.5</text><text x="502.3" y="673.7" text-anchor="middle">4.0</text><text x="452.9" y="673.7" text-anchor="middle">4.5</text><text x="403.6" y="673.7" text-anchor="middle">5.0</text><text x="354.2" y="673.7" text-anchor="middle">5.5</text><text x="304.9" y="673.7" text-anchor="middle">6.0</text><text x="255.5" y="673.7" text-anchor="middle">6.5</text><text x="206.2" y="673.7" text-anchor="middle">7.0</text><text x="156.8" y="673.7" text-anchor="middle">7.5</text><text x="107.5" y="673.7" text-anchor="middle">8.0</text><text x="58.1" y="673.7" text-anchor="middle">8.5</text></g>
<text x="477.6" y="687" font-family="'Liberation Serif', serif" font-size="12" fill="#ff5a5a">f1&#160;&#160;(ppm)</text>
<!-- molecule -->
<g stroke="#555" stroke-width="1.05" fill="none" stroke-linecap="round">
<path d="M87 180.6 L102.3 189.1 L102.3 206.6 L87 215.1 L71.1 206.6 L71.1 189.1 Z"/>
<path d="M75.4 190.4 L75.4 204.7 M88 184.6 L99 190.6 M88 211.2 L99 205"/>
<path d="M102.3 206.6 L117.3 214.5 L127 209"/>
<path d="M131.6 201 L131.6 188.4 L146.6 180 L162.6 187.8 L162.6 206.6 L146.6 215.3 L136.5 209.5"/>
<path d="M165.2 190 L165.2 204.5"/>
<path d="M162.6 187.8 L171.5 182.5 M180 182.5 L192.2 187.8 L192.2 201 M187.5 210 L177 215.3 L162.6 206.6"/>
<path d="M175.6 175 L180 163.9 L198 161.7 L201.5 172.5 M199.5 183 L192.2 187.8 M196.5 180.2 L190.5 184.2"/>
<path d="M175.8 214.8 L175.8 226 M178.2 216 L178.2 226"/>
<path d="M198 210 L208.1 214.5 L221.4 206.3"/><path d="M221.4 206.3 L236.5 215 L250.9 206.3 L250.9 188.4 L236.5 179.7 L221.4 188.4 Z"/>
<path d="M236.5 215 L236.5 232.3 M225 190.5 L236 184 M247 191 L247 204 M225 204.5 L236 211"/>
</g>
<g font-family="'Liberation Sans', sans-serif" font-size="11" fill="#3a3a3a" text-anchor="middle">
<text x="131.5" y="210.6">N</text>
<text x="175.6" y="183.8">N</text>
<text x="204" y="182.3">N</text>
<text x="192.2" y="210.6">N</text>
<text x="177" y="235.2">O</text>
</g>
<text x="66.4" y="270.4" font-family="'Liberation Sans', sans-serif" font-size="13.5" fill="#222" textLength="193" lengthAdjust="spacingAndGlyphs" xml:space="preserve">S796309  DMSO-d6  BRUKERAV400</text>
</svg>
</body></html>
